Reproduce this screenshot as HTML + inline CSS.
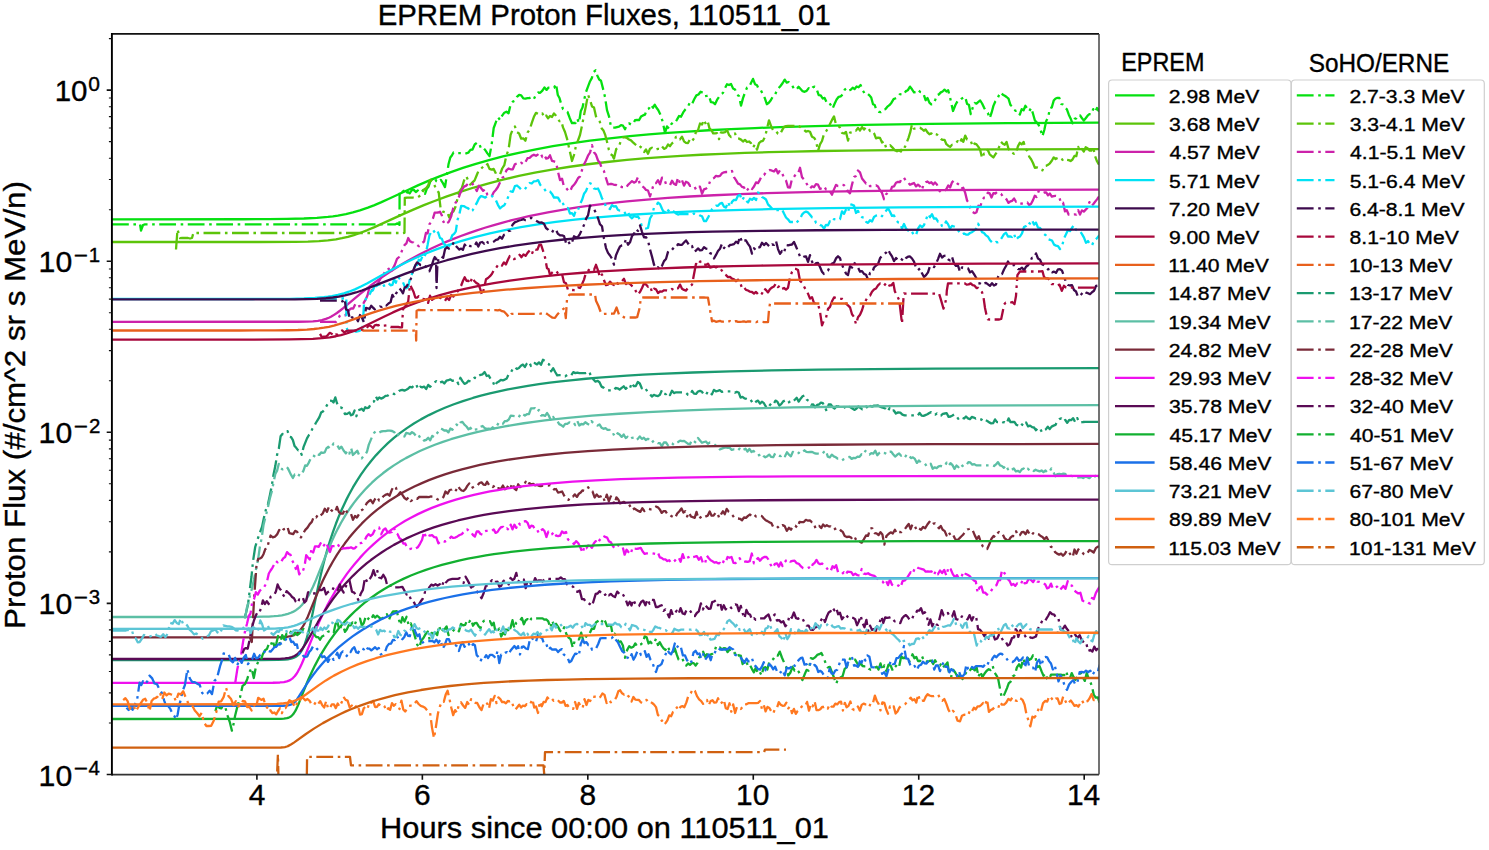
<!DOCTYPE html>
<html><head><meta charset="utf-8"><title>EPREM Proton Fluxes</title>
<style>html,body{margin:0;padding:0;background:#fff;} svg{display:block;} text{fill:#000;stroke:#000;stroke-width:0.35px;}</style>
</head><body>
<svg width="1489" height="850" viewBox="0 0 1489 850" font-family="Liberation Sans, sans-serif">
<rect width="1489" height="850" fill="#fff"/>
<defs><clipPath id="ax"><rect x="111.9" y="33.9" width="987.1" height="740.7"/></clipPath></defs>
<g clip-path="url(#ax)" fill="none" stroke-linejoin="round">
<path d="M109.9,219.30 L242.9,219.26 L268.9,219.16 L286.9,218.96 L303.9,218.52 L316.9,217.86 L327.9,216.91 L332.9,216.31 L337.9,215.58 L345.9,214.10 L352.9,212.44 L359.9,210.43 L367.9,207.69 L373.9,205.36 L380.9,202.41 L388.9,198.81 L407.9,189.96 L417.9,185.42 L428.9,180.66 L438.9,176.60 L450.9,172.08 L462.9,167.92 L475.9,163.82 L488.9,160.10 L503.9,156.23 L519.9,152.55 L535.9,149.28 L552.9,146.20 L570.9,143.33 L589.9,140.69 L609.9,138.27 L629.9,136.17 L648.9,134.43 L667.9,132.92 L687.9,131.53 L708.9,130.26 L730.9,129.12 L754.9,128.06 L779.9,127.13 L805.9,126.31 L833.9,125.58 L863.9,124.95 L929.9,123.92 L1007.9,123.18 L1101.9,122.68" stroke="#05e010" stroke-width="2.3"/>
<path d="M112.0,224.3 L114.0,224.3 L116.0,224.3 L118.0,224.3 L120.0,224.3 L122.0,224.3 L124.0,224.3 L126.0,224.3 L128.0,224.3 L130.0,224.3 L132.0,224.3 L134.0,224.3 L136.0,224.3 L138.0,224.1 L140.0,224.0 L141.0,230.6 L143.0,225.0 L145.0,224.3 L147.0,224.3 L149.0,224.3 L151.0,224.3 L153.0,224.3 L155.0,224.3 L157.0,224.3 L159.0,224.3 L161.0,224.3 L163.0,224.3 L165.0,224.3 L167.0,224.3 L169.1,224.3 L171.1,224.3 L173.1,224.3 L175.1,224.3 L177.1,224.3 L179.1,224.3 L181.1,224.3 L183.1,224.3 L185.1,224.3 L187.1,224.3 L189.1,224.3 L191.1,224.3 L193.1,224.3 L195.1,224.3 L197.1,224.3 L199.1,224.3 L201.1,224.3 L203.1,224.3 L205.1,224.3 L207.1,224.3 L209.1,224.3 L211.1,224.3 L213.1,224.3 L215.1,224.3 L217.1,224.3 L219.1,224.3 L221.2,224.3 L223.2,224.3 L225.2,224.3 L227.2,224.3 L229.2,224.3 L231.2,224.3 L233.2,224.3 L235.2,224.3 L237.2,224.3 L239.2,224.3 L241.2,224.3 L243.2,224.3 L245.2,224.3 L247.2,224.3 L249.2,224.3 L251.2,224.3 L253.2,224.3 L255.2,224.3 L257.2,224.3 L259.2,224.3 L261.2,224.3 L263.2,224.3 L265.2,224.3 L267.2,224.3 L269.2,224.3 L271.2,224.3 L273.3,224.3 L275.3,224.3 L277.3,224.3 L279.3,224.3 L281.3,224.3 L283.3,224.3 L285.3,224.3 L287.3,224.3 L289.3,224.3 L291.3,224.3 L293.3,224.3 L295.3,224.3 L297.3,224.3 L299.3,224.3 L301.3,224.3 L303.3,224.3 L305.3,224.3 L307.3,224.3 L309.3,224.3 L311.3,224.3 L313.3,224.3 L315.3,224.3 L317.3,224.3 L319.3,224.3 L321.3,224.3 L323.4,224.3 L325.4,224.3 L327.4,224.3 L329.4,224.3 L331.4,224.3 L333.4,224.3 L335.4,224.3 L337.4,224.3 L339.4,224.3 L341.4,224.3 L343.4,224.3 L345.4,224.3 L347.4,224.3 L349.4,224.3 L351.4,224.3 L353.4,224.3 L355.4,224.3 L357.4,224.3 L359.4,224.3 L361.4,224.3 L363.4,224.3 L365.4,224.3 L367.4,224.3 L369.4,224.3 L371.4,224.3 L373.4,224.3 L375.5,224.3 L377.5,224.3 L379.5,224.3 L381.5,224.3 L383.5,224.3 L385.5,224.3 L387.5,224.3 L389.5,224.3 L391.5,224.3 L393.5,224.3 L395.5,224.3 L397.5,223.3 L399.5,224.9 L399.6,190.9 L401.6,192.4 L403.7,190.8 L405.7,194.0 L407.7,191.8 L409.7,193.4 L411.8,190.0 L413.8,189.9 L415.8,192.0 L417.8,190.5 L419.8,192.7 L421.9,191.3 L423.9,189.4 L425.0,193.8 L426.8,188.8 L428.6,186.5 L430.5,180.9 L432.3,178.6 L434.4,177.8 L436.5,181.3 L438.6,182.3 L440.8,179.9 L442.9,183.1 L445.0,187.1 L446.8,175.4 L448.5,164.3 L450.3,157.5 L451.9,155.5 L453.5,152.5 L455.6,153.1 L457.7,153.1 L459.9,153.1 L462.0,153.1 L464.1,153.0 L466.2,153.3 L468.3,152.7 L470.4,149.9 L472.5,149.5 L474.7,144.5 L476.8,142.8 L478.9,142.9 L481.0,148.4 L483.1,147.7 L485.2,150.0 L487.4,153.4 L489.5,156.1 L491.6,144.9 L493.7,128.0 L495.9,122.1 L498.0,117.1 L500.1,120.1 L502.2,115.6 L504.3,112.7 L506.4,111.7 L508.5,113.4 L510.6,104.7 L512.8,101.6 L514.9,100.8 L517.0,96.8 L519.1,94.8 L521.2,95.3 L523.3,98.4 L525.4,98.7 L527.5,98.1 L529.6,98.1 L531.8,96.9 L533.9,99.0 L536.0,94.7 L538.1,92.5 L540.2,92.8 L542.4,90.6 L544.5,87.4 L546.6,89.9 L548.5,87.6 L550.4,87.5 L552.2,87.6 L554.1,87.8 L556.0,83.9 L557.8,95.0 L559.5,98.0 L561.2,104.1 L563.0,109.0 L565.2,110.5 L567.5,112.0 L569.8,118.2 L572.0,123.2 L573.8,122.8 L575.5,123.0 L577.2,118.7 L579.0,122.7 L580.8,111.0 L582.5,107.6 L584.2,99.6 L586.0,92.0 L587.9,86.9 L589.8,81.8 L591.8,78.1 L593.7,71.9 L595.6,70.3 L597.4,75.7 L599.2,79.5 L601.0,80.8 L603.0,88.6 L605.0,97.0 L607.0,110.1 L609.0,116.3 L611.0,126.8 L613.0,127.7 L615.0,127.7 L617.0,127.1 L619.0,126.7 L621.0,125.2 L623.0,125.7 L625.0,129.2 L627.0,124.5 L629.0,123.4 L631.0,124.4 L633.0,124.1 L635.0,120.2 L637.0,119.9 L639.0,120.2 L641.0,116.6 L643.0,115.4 L645.0,114.6 L647.0,109.1 L649.0,108.5 L651.0,104.7 L653.0,107.7 L654.8,104.7 L656.5,107.7 L658.2,110.0 L660.0,113.7 L662.5,121.1 L665.0,132.8 L667.0,126.4 L669.0,128.7 L671.0,124.5 L673.0,122.3 L675.0,122.6 L677.0,119.6 L679.0,116.0 L681.0,116.7 L683.2,112.4 L685.5,109.3 L687.8,107.0 L690.0,102.2 L692.1,103.8 L694.2,99.3 L696.4,95.4 L698.5,94.5 L700.6,91.7 L702.7,92.6 L704.7,96.3 L706.8,95.9 L708.8,95.3 L710.9,102.2 L712.9,102.4 L715.0,104.2 L717.0,99.9 L719.0,97.0 L721.0,94.2 L723.0,92.9 L725.0,88.0 L727.0,84.2 L729.0,85.0 L731.0,83.9 L733.0,88.4 L735.0,89.5 L737.0,94.5 L739.0,96.2 L741.0,105.6 L743.0,98.1 L745.0,92.5 L747.0,87.6 L749.0,87.2 L751.0,83.1 L753.0,78.9 L755.0,84.2 L757.0,85.2 L758.9,89.4 L760.9,90.4 L762.9,94.3 L764.8,98.1 L766.8,104.2 L768.8,102.8 L770.8,100.3 L772.8,96.6 L774.8,95.7 L776.8,90.4 L778.7,88.0 L780.7,85.7 L782.7,83.0 L784.7,79.6 L786.7,82.6 L788.7,82.0 L790.7,83.8 L792.7,86.5 L794.6,89.6 L796.6,89.2 L798.6,86.8 L800.6,89.0 L802.6,91.2 L804.6,91.8 L806.6,90.9 L808.7,88.1 L810.7,89.7 L812.7,87.4 L814.7,86.7 L816.7,89.2 L818.7,95.1 L820.7,95.3 L822.7,98.5 L824.6,97.9 L826.6,102.3 L828.6,101.7 L830.6,104.8 L832.6,108.6 L834.6,103.8 L836.6,99.5 L838.7,96.8 L840.7,96.3 L842.7,94.6 L844.7,89.7 L846.7,88.1 L848.7,90.4 L850.7,89.8 L852.7,87.8 L854.6,89.1 L856.6,86.5 L858.6,87.3 L860.6,85.0 L862.7,90.3 L864.8,93.7 L867.0,93.2 L869.1,95.1 L871.2,97.5 L873.0,104.2 L874.7,105.0 L876.5,110.4 L878.7,111.8 L880.9,112.1 L883.1,109.8 L885.3,109.2 L887.4,106.7 L889.4,105.2 L891.5,102.7 L893.6,99.1 L895.6,98.3 L897.7,97.4 L899.7,94.3 L901.8,94.1 L903.8,94.5 L905.9,91.1 L907.9,90.2 L910.0,86.6 L912.0,89.3 L914.0,92.3 L916.0,92.0 L918.0,89.8 L920.0,91.8 L921.9,92.2 L923.7,94.3 L925.6,100.2 L927.5,98.0 L929.4,102.6 L931.3,104.4 L933.2,104.3 L935.1,100.2 L937.0,95.2 L938.9,94.4 L940.8,92.4 L942.6,91.5 L944.5,89.7 L946.4,91.5 L948.2,90.3 L950.1,97.7 L953.0,111.0 L955.4,105.0 L957.7,100.8 L959.6,100.7 L961.5,98.7 L963.3,97.7 L965.2,96.9 L967.1,104.0 L968.9,104.7 L970.8,114.2 L972.7,107.6 L974.6,103.0 L976.5,103.6 L978.4,101.9 L980.2,100.5 L982.1,103.5 L984.0,107.6 L985.9,111.0 L987.8,112.9 L989.7,118.2 L991.6,112.7 L993.4,105.9 L995.3,101.5 L997.2,99.4 L999.1,94.9 L1001.0,92.4 L1002.9,94.7 L1004.8,95.7 L1006.6,97.0 L1008.5,98.7 L1010.4,104.9 L1012.2,106.4 L1014.1,109.8 L1016.0,110.9 L1017.9,110.6 L1019.8,114.6 L1021.7,109.1 L1023.6,110.3 L1025.4,105.8 L1027.3,108.8 L1029.2,111.3 L1031.1,107.9 L1033.0,113.7 L1034.9,120.5 L1036.7,122.4 L1038.6,124.8 L1040.5,129.6 L1042.4,136.3 L1044.3,130.0 L1046.2,121.0 L1048.1,117.6 L1049.9,108.2 L1051.8,107.4 L1053.7,100.6 L1055.6,98.5 L1057.5,97.8 L1059.3,97.8 L1061.2,104.0 L1063.1,104.5 L1065.0,107.5 L1066.9,109.3 L1068.8,114.7 L1070.6,118.4 L1072.5,123.4 L1074.4,118.9 L1076.3,118.4 L1078.2,115.2 L1080.1,115.3 L1082.0,118.3 L1083.8,120.6 L1085.7,118.2 L1087.6,115.7 L1089.4,114.2 L1091.3,114.2 L1093.2,109.1 L1095.1,112.1 L1097.0,108.0 L1098.5,110.7 L1100.0,108.6" stroke="#05e010" stroke-width="2.3" stroke-dasharray="16.8 4.6 2.6 4.5"/>
<path d="M109.9,242.00 L258.9,241.99 L294.9,241.84 L307.9,241.59 L318.9,241.12 L327.9,240.39 L335.9,239.34 L341.9,238.24 L347.9,236.81 L353.9,235.07 L359.9,233.02 L366.9,230.31 L373.9,227.35 L401.9,214.65 L413.9,209.37 L423.9,205.18 L433.9,201.21 L446.9,196.38 L460.9,191.59 L473.9,187.52 L487.9,183.52 L502.9,179.65 L518.9,175.96 L534.9,172.68 L551.9,169.60 L569.9,166.74 L587.9,164.26 L606.9,162.00 L626.9,159.96 L643.9,158.47 L661.9,157.11 L680.9,155.87 L700.9,154.77 L721.9,153.79 L744.9,152.91 L768.9,152.16 L793.9,151.53 L819.9,151.00 L848.9,150.54 L914.9,149.85 L995.9,149.42 L1101.9,149.17" stroke="#5cc40a" stroke-width="2.3"/>
<path d="M176.0,249.5 L177.5,229.4 L180.0,238.1 L182.0,238.0 L184.0,238.0 L186.0,238.0 L188.0,238.0 L190.0,238.5 L192.0,238.0 L193.5,232.6 L195.5,233.0 L197.5,233.0 L199.5,233.0 L201.5,233.0 L203.5,233.0 L205.4,233.0 L207.4,233.0 L209.4,233.0 L211.4,233.0 L213.4,233.0 L215.4,233.0 L217.4,233.0 L219.4,233.0 L221.4,233.0 L223.4,233.0 L225.3,233.0 L227.3,233.0 L229.3,233.0 L231.3,233.0 L233.3,233.0 L235.3,233.0 L237.3,233.0 L239.3,233.0 L241.3,233.0 L243.3,233.0 L245.3,233.0 L247.2,233.0 L249.2,233.0 L251.2,233.0 L253.2,233.0 L255.2,233.0 L257.2,233.0 L259.2,233.0 L261.2,233.0 L263.2,233.0 L265.2,233.0 L267.2,233.0 L269.1,233.0 L271.1,233.0 L273.1,233.0 L275.1,233.0 L277.1,233.0 L279.1,233.0 L281.1,233.0 L283.1,233.0 L285.1,233.0 L287.1,233.0 L289.0,233.0 L291.0,233.0 L293.0,233.0 L295.0,233.0 L297.0,233.0 L299.0,233.0 L301.0,233.0 L303.0,233.0 L305.0,233.0 L307.0,233.0 L309.0,233.0 L310.9,233.0 L312.9,233.0 L314.9,233.0 L316.9,233.0 L318.9,233.0 L320.9,233.0 L322.9,233.0 L324.9,233.0 L326.9,233.0 L328.9,233.0 L330.8,233.0 L332.8,233.0 L334.8,233.0 L336.8,233.0 L338.8,233.0 L340.8,233.0 L342.8,233.0 L344.8,233.0 L346.8,233.0 L348.8,233.0 L350.8,233.0 L352.7,233.0 L354.7,233.0 L356.7,233.0 L358.7,233.0 L360.7,233.0 L362.7,233.0 L364.7,233.0 L366.7,233.0 L368.7,233.0 L370.7,233.0 L372.7,233.0 L374.6,233.0 L376.6,233.0 L378.6,233.0 L380.6,233.0 L382.6,233.0 L384.6,233.0 L386.6,233.0 L388.6,233.0 L390.6,233.0 L392.6,233.0 L394.5,233.0 L396.5,233.0 L398.5,233.0 L400.5,233.0 L402.5,233.2 L404.5,232.8 L404.8,198.0 L406.9,197.6 L409.0,197.6 L411.1,197.6 L413.3,197.6 L415.4,197.9 L417.5,197.5 L419.6,196.0 L421.7,194.4 L423.8,189.8 L426.0,188.3 L428.1,185.4 L430.2,179.9 L432.3,181.0 L434.4,185.0 L436.6,190.5 L438.7,192.3 L440.8,210.0 L442.9,211.7 L445.1,212.2 L447.2,212.2 L449.3,217.5 L451.4,212.9 L453.5,211.3 L455.6,206.5 L457.7,197.8 L459.8,191.0 L461.9,187.8 L464.1,180.3 L466.2,176.2 L468.3,180.6 L470.4,184.6 L472.5,182.4 L474.6,180.4 L476.8,175.0 L478.9,169.8 L481.0,168.8 L483.1,166.7 L485.3,167.3 L487.4,164.0 L489.5,168.9 L491.6,169.6 L493.7,168.9 L495.9,173.4 L498.0,179.4 L500.1,174.3 L502.2,168.5 L504.3,165.2 L506.4,155.4 L508.5,149.9 L510.6,134.9 L512.8,129.2 L514.9,126.4 L517.0,132.3 L519.1,133.5 L521.2,138.7 L523.3,138.3 L525.4,140.7 L527.5,132.7 L529.7,129.5 L531.8,122.9 L533.9,116.8 L536.0,112.9 L538.1,113.9 L540.3,114.8 L542.4,113.4 L544.3,117.5 L546.2,115.5 L548.1,118.4 L550.0,116.0 L552.0,117.0 L554.0,113.4 L556.0,115.7 L557.8,118.6 L559.5,121.2 L561.2,120.9 L563.0,127.4 L565.0,132.0 L567.0,138.6 L569.5,149.9 L572.0,161.0 L574.0,155.0 L576.0,145.7 L578.0,140.5 L580.0,135.0 L582.0,125.8 L584.0,115.3 L586.0,105.6 L588.0,94.8 L590.0,99.9 L592.0,106.4 L594.0,107.6 L596.0,116.4 L598.0,118.8 L599.8,121.7 L601.7,128.4 L603.5,130.6 L605.3,135.2 L607.0,141.7 L608.8,149.6 L610.6,154.3 L612.3,155.3 L614.0,158.6 L616.2,149.0 L618.5,147.8 L620.8,141.1 L623.0,137.3 L625.0,137.4 L627.0,138.0 L629.0,139.5 L631.0,140.4 L633.0,142.3 L635.0,144.1 L636.8,145.6 L638.7,144.7 L640.5,146.9 L642.3,148.3 L644.2,152.0 L646.0,149.4 L648.0,153.8 L650.0,148.8 L652.0,147.7 L654.0,149.3 L656.0,149.6 L658.0,148.8 L660.0,149.0 L662.0,146.3 L664.0,148.9 L666.0,148.0 L668.0,144.5 L670.0,146.2 L672.0,143.4 L674.0,141.8 L676.0,136.8 L678.0,136.7 L680.0,139.4 L682.0,136.6 L684.0,141.3 L686.0,142.9 L688.0,143.1 L690.0,139.1 L692.0,141.1 L694.0,138.3 L696.0,131.8 L698.0,130.3 L700.0,123.5 L702.0,124.5 L704.0,119.8 L705.8,124.2 L707.7,121.5 L709.5,128.4 L711.3,130.0 L713.2,133.4 L715.0,133.3 L717.0,133.1 L719.0,139.2 L721.0,132.3 L723.0,132.7 L725.0,132.2 L727.0,129.9 L729.0,134.9 L731.0,137.1 L733.0,134.6 L735.0,133.5 L737.0,138.3 L739.0,138.6 L741.0,139.6 L743.0,141.5 L745.0,139.9 L747.0,142.0 L749.0,141.5 L751.0,143.2 L753.0,147.6 L755.0,144.4 L757.0,149.7 L759.0,143.1 L761.0,141.4 L763.0,140.8 L765.0,137.0 L767.0,128.6 L769.0,120.3 L771.2,126.5 L773.5,130.9 L775.8,130.8 L778.0,133.8 L780.0,134.5 L782.0,130.4 L784.0,126.9 L786.0,126.2 L788.0,126.0 L790.0,126.0 L792.0,126.0 L794.0,126.0 L796.0,126.0 L798.0,125.2 L800.0,126.9 L802.0,128.1 L804.0,129.9 L806.0,131.7 L808.0,131.0 L810.0,131.8 L812.0,136.8 L814.0,137.7 L816.0,140.6 L818.0,151.2 L820.0,144.4 L822.0,141.0 L824.0,134.0 L826.0,131.5 L828.0,128.1 L830.0,124.0 L832.0,119.9 L834.0,116.4 L836.0,124.5 L838.0,125.5 L840.0,127.7 L842.0,132.9 L844.0,133.5 L846.0,132.0 L848.0,140.6 L850.0,132.7 L852.0,132.2 L854.0,130.3 L856.0,130.7 L858.0,127.9 L860.0,130.5 L862.0,127.1 L864.0,129.5 L866.0,127.1 L868.0,127.7 L870.0,131.0 L872.0,130.6 L874.0,133.1 L876.0,138.3 L878.0,137.6 L880.0,137.9 L882.0,142.5 L884.0,141.1 L886.0,147.4 L888.0,146.8 L890.2,145.2 L892.5,147.6 L894.8,150.2 L897.0,151.3 L899.0,150.4 L901.0,151.5 L903.0,145.6 L905.0,146.9 L906.8,142.4 L908.5,137.8 L910.2,132.4 L912.0,124.4 L914.0,128.7 L916.0,128.6 L918.0,127.8 L920.0,127.7 L921.9,129.0 L923.8,130.7 L925.6,129.4 L927.5,132.4 L929.4,134.3 L931.3,133.4 L933.2,135.4 L935.1,134.0 L937.0,134.5 L938.9,136.9 L940.8,139.0 L942.6,139.9 L944.5,139.8 L946.4,144.2 L948.2,145.7 L950.1,146.9 L952.0,144.8 L953.9,144.7 L955.8,143.3 L957.7,141.1 L959.6,143.4 L961.5,139.2 L963.3,141.9 L965.2,135.6 L967.1,139.5 L968.9,139.7 L970.8,141.0 L972.7,146.3 L974.6,143.5 L976.5,144.4 L978.4,146.9 L980.2,150.1 L982.1,158.2 L984.0,153.6 L985.9,154.0 L987.8,150.0 L989.7,154.3 L991.5,155.8 L993.4,157.5 L995.3,154.4 L997.2,151.6 L999.1,147.0 L1001.0,141.8 L1002.9,143.7 L1004.8,144.7 L1006.6,142.0 L1008.5,148.8 L1010.4,152.7 L1012.2,152.7 L1014.1,153.9 L1016.0,153.4 L1017.9,146.4 L1019.8,142.8 L1021.7,144.3 L1023.6,141.9 L1025.5,148.7 L1027.3,150.9 L1029.2,156.6 L1031.1,159.2 L1033.0,163.0 L1034.9,167.8 L1036.8,167.4 L1038.7,168.3 L1040.5,168.5 L1042.4,170.4 L1044.3,166.1 L1046.2,165.8 L1048.0,164.8 L1049.9,163.3 L1051.8,160.7 L1053.7,157.4 L1055.6,159.1 L1057.5,158.0 L1059.3,157.4 L1061.2,157.8 L1063.1,160.9 L1065.0,159.8 L1066.8,159.8 L1068.7,160.1 L1070.6,161.0 L1072.5,159.5 L1074.4,156.0 L1076.3,156.2 L1078.2,147.0 L1080.1,151.6 L1082.0,149.0 L1083.8,151.5 L1085.7,147.3 L1087.6,148.2 L1089.5,150.6 L1091.3,150.7 L1093.2,147.5 L1095.1,156.1 L1097.0,161.3 L1098.5,163.9 L1100.0,162.3" stroke="#5cc40a" stroke-width="2.3" stroke-dasharray="16.8 4.6 2.6 4.5"/>
<path d="M109.9,321.80 L297.9,321.75 L306.9,321.60 L312.9,321.32 L317.9,320.81 L321.9,320.09 L325.9,318.94 L328.9,317.73 L330.9,316.75 L332.9,315.62 L336.9,312.99 L339.9,310.75 L342.9,308.36 L359.9,294.11 L365.9,289.28 L370.9,285.40 L376.9,280.93 L382.9,276.66 L388.9,272.58 L395.9,268.05 L401.9,264.35 L407.9,260.83 L413.9,257.47 L419.9,254.26 L425.9,251.20 L431.9,248.29 L437.9,245.51 L444.9,242.42 L452.9,239.10 L460.9,235.99 L468.9,233.06 L476.9,230.32 L484.9,227.75 L493.9,225.05 L501.9,222.80 L510.9,220.44 L519.9,218.25 L528.9,216.21 L537.9,214.31 L547.9,212.35 L557.9,210.55 L567.9,208.89 L578.9,207.21 L589.9,205.67 L607.9,203.43 L626.9,201.40 L646.9,199.57 L667.9,197.95 L689.9,196.52 L713.9,195.23 L739.9,194.08 L766.9,193.13 L795.9,192.31 L826.9,191.63 L860.9,191.06 L897.9,190.59 L938.9,190.21 L985.9,189.91 L1101.9,189.52" stroke="#cc22aa" stroke-width="2.3"/>
<path d="M320.0,321.8 L322.0,321.8 L324.0,321.8 L326.0,321.8 L327.9,321.8 L329.9,321.8 L331.9,321.8 L333.9,321.8 L335.9,322.0 L337.7,320.1 L339.5,316.1 L341.4,315.0 L343.2,315.9 L345.0,315.5 L347.1,313.1 L349.1,310.0 L351.2,308.4 L353.2,308.5 L355.3,304.1 L357.4,307.0 L359.5,306.0 L361.7,306.8 L363.8,302.7 L365.9,299.1 L367.7,294.7 L369.4,287.3 L371.2,290.7 L373.0,289.4 L374.7,288.4 L376.5,285.1 L378.2,283.1 L380.0,279.5 L381.7,276.5 L383.5,275.5 L385.3,270.0 L387.1,269.8 L388.8,268.8 L390.6,272.5 L392.7,268.7 L394.8,264.9 L397.0,258.8 L399.1,257.0 L401.2,252.8 L402.9,248.2 L404.7,244.8 L406.4,243.3 L408.2,238.0 L410.0,241.3 L411.7,242.1 L413.5,242.5 L415.3,244.5 L417.0,244.8 L418.8,246.2 L420.6,243.5 L422.3,242.8 L424.1,241.5 L425.9,232.9 L427.6,233.4 L429.4,224.2 L431.2,222.1 L432.9,218.6 L434.7,212.7 L436.5,212.6 L438.2,212.5 L440.0,211.7 L441.8,215.3 L443.5,222.0 L445.3,220.5 L447.0,223.1 L448.8,221.9 L451.1,216.6 L453.3,207.8 L455.6,202.6 L457.7,200.3 L459.9,194.1 L462.0,189.6 L464.1,186.6 L466.2,185.6 L468.3,183.4 L470.4,182.4 L472.5,183.7 L474.7,187.3 L476.8,191.0 L478.9,185.7 L481.0,188.0 L483.1,190.9 L485.3,189.1 L487.4,194.9 L489.5,195.7 L491.6,196.7 L493.7,192.3 L495.8,190.0 L497.9,187.0 L500.1,182.1 L502.2,177.7 L504.3,176.6 L506.4,170.4 L508.5,168.5 L510.6,169.3 L512.8,169.3 L514.9,164.3 L517.0,163.4 L519.1,164.3 L521.2,162.7 L523.3,164.5 L525.4,162.1 L527.5,158.2 L529.6,157.8 L531.8,155.8 L533.9,154.7 L536.0,155.8 L538.1,154.4 L540.3,152.7 L542.4,157.1 L544.3,155.1 L546.2,158.6 L548.1,158.2 L550.0,155.3 L552.0,160.8 L554.0,161.4 L556.0,162.1 L558.0,171.7 L560.0,180.1 L562.0,178.6 L564.0,186.9 L566.0,187.9 L568.0,190.3 L570.0,191.6 L572.0,186.9 L574.0,184.8 L576.0,182.0 L578.0,178.2 L580.0,176.5 L582.0,170.0 L584.0,164.4 L586.0,160.4 L588.0,155.7 L590.0,152.7 L592.0,145.2 L594.0,152.3 L596.0,154.8 L598.0,160.5 L600.0,162.9 L602.0,169.3 L604.0,171.2 L606.0,178.2 L608.0,184.5 L610.0,184.0 L612.0,184.0 L614.0,184.8 L616.0,184.9 L618.0,186.6 L620.0,185.8 L622.0,187.2 L624.0,187.2 L626.0,187.8 L628.0,184.8 L630.0,183.0 L632.0,181.2 L634.0,182.7 L636.0,181.6 L638.0,177.0 L640.0,185.0 L642.0,186.1 L644.0,187.6 L646.0,189.9 L648.0,190.5 L650.0,196.5 L652.0,189.9 L654.0,183.1 L656.0,183.1 L658.0,180.2 L660.0,184.3 L662.0,177.6 L664.0,178.3 L666.0,184.1 L668.0,184.4 L670.0,185.1 L672.0,180.7 L674.0,183.8 L676.0,184.9 L678.0,177.5 L680.0,183.5 L682.0,180.3 L684.0,185.6 L686.0,181.8 L688.0,182.7 L690.0,185.9 L692.0,185.6 L694.0,185.7 L696.0,189.6 L698.0,186.7 L700.0,186.7 L702.0,193.7 L704.0,189.3 L706.0,188.7 L708.0,187.2 L710.0,181.4 L712.0,178.9 L714.0,178.0 L716.0,175.8 L718.0,176.4 L720.0,175.9 L722.0,173.3 L724.0,172.3 L726.0,172.0 L728.0,172.0 L730.0,172.5 L732.0,171.0 L734.0,177.2 L736.0,180.1 L738.0,183.6 L740.0,184.4 L742.0,186.9 L744.0,187.4 L746.0,191.6 L748.0,189.1 L750.0,186.8 L752.0,189.1 L754.0,186.5 L756.0,182.4 L758.0,183.1 L760.0,179.6 L762.0,175.3 L764.0,175.0 L766.0,172.1 L768.0,171.3 L770.0,170.0 L772.0,170.7 L774.0,171.5 L776.0,169.1 L778.0,173.4 L780.0,170.2 L782.0,172.9 L784.0,177.8 L786.0,180.5 L788.0,187.4 L790.0,187.5 L792.0,178.7 L794.0,176.9 L796.0,173.9 L798.0,173.6 L800.0,167.8 L802.0,177.3 L804.0,179.4 L806.0,182.7 L808.0,185.9 L810.0,188.5 L812.0,186.3 L814.0,187.1 L816.0,184.2 L818.0,184.7 L820.0,188.9 L822.0,188.1 L824.0,186.3 L826.0,189.3 L828.0,189.3 L830.0,191.4 L832.0,194.7 L834.0,189.4 L836.0,184.9 L838.0,186.0 L840.0,186.0 L842.0,184.8 L844.0,185.1 L846.0,187.6 L848.0,191.5 L850.0,193.3 L852.0,184.6 L854.0,177.0 L856.0,175.9 L858.0,170.5 L860.0,172.3 L862.0,178.5 L864.0,181.0 L866.0,183.5 L868.0,182.8 L870.0,186.1 L872.0,186.0 L874.0,186.0 L876.0,185.3 L878.0,186.5 L880.0,190.2 L882.0,192.8 L884.0,199.2 L886.0,194.4 L888.0,192.5 L890.0,192.6 L892.0,186.9 L894.0,186.4 L896.0,182.8 L898.0,181.9 L900.0,182.1 L902.0,177.8 L904.0,177.8 L906.0,180.9 L908.0,182.4 L910.0,184.8 L912.0,183.9 L914.0,183.0 L916.0,186.4 L918.0,184.6 L920.0,186.3 L921.9,189.9 L923.8,183.7 L925.6,182.3 L927.5,181.5 L929.4,183.2 L931.3,182.2 L933.2,184.5 L935.0,182.4 L936.9,184.5 L938.8,190.1 L940.7,191.9 L942.6,191.7 L944.5,191.3 L946.4,189.0 L948.3,185.4 L950.1,187.5 L952.0,182.3 L953.9,180.5 L955.8,181.5 L957.6,183.8 L959.5,185.0 L961.4,188.4 L963.3,187.8 L965.2,192.9 L967.1,200.6 L968.9,202.9 L970.8,209.9 L972.7,212.1 L974.6,213.2 L976.5,212.2 L978.4,205.8 L980.2,206.8 L982.1,200.6 L984.0,197.6 L985.9,197.2 L987.8,192.7 L989.7,193.4 L991.5,197.5 L993.4,193.1 L995.3,193.5 L997.2,191.9 L999.1,193.2 L1001.0,193.9 L1002.9,196.5 L1004.8,197.0 L1006.6,199.5 L1008.5,202.9 L1010.4,201.4 L1012.2,200.8 L1014.1,198.5 L1016.0,201.8 L1017.9,201.6 L1019.8,203.6 L1021.7,203.5 L1023.6,203.1 L1025.5,203.1 L1027.3,202.4 L1029.2,205.1 L1031.1,203.7 L1033.0,200.1 L1034.8,195.8 L1036.7,197.0 L1038.6,191.2 L1040.5,192.6 L1042.4,193.3 L1044.3,192.5 L1046.2,192.4 L1048.0,195.3 L1049.9,193.5 L1051.8,196.7 L1053.7,196.2 L1055.5,195.9 L1057.4,196.2 L1059.3,197.3 L1061.2,203.5 L1063.1,202.8 L1065.0,211.4 L1066.8,210.2 L1068.7,214.7 L1070.6,214.4 L1072.5,214.4 L1074.4,214.3 L1076.3,214.6 L1078.2,210.3 L1080.0,214.6 L1081.9,210.4 L1083.8,211.6 L1085.7,209.6 L1087.5,208.0 L1089.4,202.1 L1091.3,206.1 L1093.2,204.2 L1095.1,201.8 L1097.0,199.4 L1098.5,197.2 L1100.0,199.1" stroke="#cc22aa" stroke-width="2.3" stroke-dasharray="16.8 4.6 2.6 4.5"/>
<path d="M109.9,299.00 L252.9,298.98 L289.9,298.81 L303.9,298.52 L314.9,298.02 L323.9,297.25 L327.9,296.76 L331.9,296.14 L337.9,294.95 L343.9,293.36 L348.9,291.71 L354.9,289.34 L360.9,286.58 L366.9,283.52 L388.9,271.34 L397.9,266.53 L406.9,261.99 L414.9,258.23 L425.9,253.47 L436.9,249.16 L448.9,244.92 L460.9,241.12 L474.9,237.18 L481.9,235.39 L489.9,233.47 L504.9,230.23 L520.9,227.21 L537.9,224.44 L555.9,221.91 L574.9,219.64 L594.9,217.62 L612.9,216.07 L630.9,214.74 L649.9,213.54 L670.9,212.42 L692.9,211.44 L716.9,210.56 L741.9,209.81 L768.9,209.16 L797.9,208.60 L828.9,208.13 L899.9,207.42 L986.9,206.95 L1101.9,206.68" stroke="#00e2f5" stroke-width="2.3"/>
<path d="M320.0,298.5 L322.0,298.5 L324.0,298.5 L326.1,298.5 L328.1,298.5 L330.1,298.5 L332.1,298.5 L334.2,298.5 L336.2,298.5 L338.2,298.5 L340.2,298.5 L342.3,298.5 L344.3,298.2 L346.3,297.5 L346.5,327.7 L348.0,331.3 L350.1,331.1 L352.1,331.0 L354.2,330.9 L356.2,331.7 L358.3,331.2 L360.3,330.6 L362.4,331.4 L364.0,304.0 L365.8,299.0 L367.6,295.6 L369.4,294.8 L371.2,291.3 L373.0,290.2 L374.7,285.7 L376.5,286.0 L378.2,284.9 L380.1,284.4 L382.1,282.8 L384.0,285.8 L386.2,284.7 L388.4,283.0 L390.6,285.3 L392.4,284.9 L394.1,279.3 L395.9,282.7 L397.6,276.6 L399.4,278.5 L401.2,280.4 L403.0,282.4 L404.8,286.6 L406.5,288.3 L408.2,286.6 L410.0,278.7 L411.8,274.2 L413.5,270.3 L415.3,265.3 L417.1,265.1 L418.8,259.7 L420.6,260.5 L422.4,256.6 L424.1,258.0 L425.9,252.5 L427.6,244.9 L429.4,235.6 L431.2,231.8 L433.0,229.8 L434.8,232.5 L436.5,230.3 L438.2,232.7 L440.0,238.0 L441.8,238.7 L443.5,243.2 L445.2,244.9 L447.0,247.1 L448.8,247.4 L450.5,240.1 L452.3,235.2 L454.1,233.9 L455.8,231.3 L457.6,219.7 L459.4,213.9 L461.2,205.8 L463.7,206.1 L466.2,207.5 L468.3,208.4 L470.4,211.8 L472.5,210.6 L474.6,206.3 L476.8,203.0 L478.9,198.5 L481.0,196.1 L483.1,196.7 L485.2,197.6 L487.3,195.8 L489.5,195.5 L491.6,195.6 L493.7,198.3 L495.8,200.0 L497.9,204.8 L500.0,208.4 L502.2,206.5 L504.3,205.3 L506.4,201.4 L508.5,196.1 L510.6,191.4 L512.8,191.8 L514.9,186.2 L517.0,185.5 L519.1,187.3 L521.2,189.6 L523.3,190.3 L525.5,188.3 L527.6,185.6 L529.7,183.0 L531.8,183.5 L533.9,181.3 L536.0,181.2 L538.1,180.1 L540.3,184.9 L542.4,187.5 L544.3,188.9 L546.2,191.7 L548.1,190.8 L550.0,191.5 L552.0,193.9 L554.0,197.6 L556.0,197.3 L558.0,197.6 L560.0,201.4 L562.0,200.0 L564.0,206.5 L566.0,207.7 L568.0,208.1 L570.0,213.5 L572.0,213.2 L574.0,215.9 L576.0,209.6 L578.0,210.1 L580.0,204.3 L582.0,200.1 L584.0,193.8 L586.0,191.1 L588.0,185.8 L590.0,183.2 L592.0,184.3 L594.0,188.4 L596.0,189.0 L598.0,188.5 L600.0,192.7 L602.0,198.4 L604.0,200.6 L606.0,207.5 L608.0,207.7 L610.0,209.0 L612.0,205.1 L614.0,206.5 L616.0,206.2 L618.0,210.0 L620.0,210.6 L622.0,210.6 L624.0,211.6 L626.0,214.5 L628.0,212.1 L630.0,216.4 L632.0,218.3 L634.0,216.0 L636.0,216.8 L638.0,216.5 L640.0,219.8 L642.0,227.0 L644.0,228.0 L646.0,228.5 L648.0,228.0 L650.0,218.5 L652.0,215.2 L654.0,207.6 L656.0,206.1 L658.0,202.6 L660.0,204.1 L662.0,208.8 L664.0,212.8 L666.0,208.3 L668.0,210.2 L670.0,212.0 L672.0,210.5 L674.0,211.7 L676.0,213.5 L678.0,214.6 L680.0,214.0 L682.0,214.0 L684.0,214.0 L686.0,214.0 L688.0,214.0 L690.0,214.0 L692.0,214.8 L694.0,213.5 L696.0,214.0 L698.0,214.0 L700.0,215.5 L702.0,216.3 L704.0,221.0 L706.0,221.1 L708.0,217.7 L710.0,213.6 L712.0,209.1 L714.0,207.1 L716.0,205.6 L718.0,205.8 L720.0,203.6 L722.0,202.9 L724.0,206.7 L726.0,207.6 L728.0,201.9 L730.0,206.8 L732.0,201.9 L734.0,199.8 L736.0,200.1 L738.0,195.8 L740.0,194.7 L742.0,200.5 L744.0,197.2 L746.0,200.7 L748.0,202.5 L750.0,198.8 L752.0,199.8 L754.0,197.9 L756.0,200.1 L758.0,192.5 L760.0,193.2 L762.0,196.9 L764.0,198.0 L766.0,199.5 L768.0,204.4 L770.0,206.4 L772.0,208.5 L774.0,210.7 L776.0,210.0 L778.0,210.0 L780.0,210.1 L782.0,209.3 L784.0,213.6 L786.0,217.5 L788.0,219.3 L790.0,222.0 L792.0,222.0 L794.0,222.0 L796.0,223.4 L798.0,221.1 L800.0,219.2 L802.0,214.6 L804.0,212.5 L806.0,211.6 L808.0,212.4 L810.0,214.7 L812.0,217.3 L814.0,217.7 L816.0,222.9 L818.0,223.1 L820.0,224.9 L822.0,225.8 L824.0,228.6 L826.0,224.8 L828.0,225.3 L830.0,221.1 L832.0,222.2 L834.0,219.1 L836.0,219.1 L838.0,219.8 L840.0,219.2 L842.0,211.3 L844.0,213.9 L846.0,209.6 L848.0,212.3 L850.0,204.2 L852.0,204.7 L854.0,205.6 L856.0,213.0 L858.0,210.8 L860.0,215.5 L862.0,217.2 L864.0,217.6 L866.0,221.7 L868.0,222.9 L870.0,220.3 L872.0,221.5 L874.0,217.0 L876.0,215.6 L878.0,215.1 L880.0,214.4 L882.0,216.2 L884.0,212.6 L886.0,210.9 L888.0,208.2 L890.0,211.8 L892.0,215.9 L894.0,215.4 L896.0,220.0 L898.0,222.3 L900.0,222.8 L902.0,228.5 L904.0,224.0 L906.0,228.4 L908.0,230.6 L910.0,229.0 L912.0,231.8 L914.0,235.1 L916.0,235.3 L918.0,228.6 L920.0,225.5 L922.0,227.2 L924.0,225.1 L926.0,219.6 L928.0,214.0 L930.0,217.2 L932.0,214.2 L934.0,218.7 L936.0,218.4 L938.0,221.7 L940.0,221.5 L942.0,225.9 L944.0,226.4 L946.0,221.4 L948.0,224.1 L950.0,228.6 L952.0,225.9 L954.0,226.5 L956.0,227.2 L958.0,230.1 L960.0,233.2 L962.0,234.5 L964.0,233.4 L966.0,234.6 L968.0,234.7 L970.0,233.0 L972.0,232.2 L974.0,230.6 L976.0,229.0 L978.0,223.6 L980.0,227.3 L982.0,232.1 L984.0,233.0 L986.0,235.4 L988.0,236.7 L990.0,240.3 L992.0,242.3 L994.0,243.5 L996.0,242.0 L998.0,242.3 L1000.0,240.3 L1002.0,237.5 L1004.0,234.1 L1006.0,232.8 L1008.0,236.5 L1010.0,236.3 L1012.0,237.0 L1014.0,233.6 L1016.0,239.9 L1018.0,237.6 L1020.0,236.5 L1022.0,233.4 L1024.0,227.1 L1026.0,226.0 L1028.0,222.1 L1030.0,223.6 L1032.0,220.1 L1034.0,224.6 L1036.0,222.6 L1038.0,227.7 L1040.0,227.9 L1042.0,230.3 L1044.0,233.9 L1046.0,235.5 L1048.0,239.1 L1050.0,239.8 L1052.0,240.6 L1054.0,244.6 L1056.0,245.6 L1058.0,246.1 L1060.0,249.0 L1062.0,246.4 L1064.0,238.3 L1066.0,234.2 L1068.0,229.9 L1070.0,231.1 L1072.0,227.8 L1074.0,225.1 L1076.0,229.8 L1078.0,231.0 L1080.0,231.2 L1082.0,234.1 L1084.0,237.6 L1086.0,242.8 L1088.0,241.0 L1090.0,244.6 L1092.0,245.4 L1094.0,240.6 L1096.0,239.2 L1098.0,236.9 L1100.0,234.8" stroke="#00e2f5" stroke-width="2.3" stroke-dasharray="16.8 4.6 2.6 4.5"/>
<path d="M109.9,299.40 L260.9,299.39 L294.9,299.29 L306.9,299.12 L316.9,298.79 L325.9,298.23 L332.9,297.50 L338.9,296.61 L344.9,295.43 L349.9,294.21 L355.9,292.47 L361.9,290.49 L368.9,287.94 L393.9,278.10 L404.9,273.91 L413.9,270.65 L422.9,267.56 L434.9,263.74 L446.9,260.23 L458.9,257.04 L471.9,253.91 L485.9,250.90 L499.9,248.23 L514.9,245.71 L530.9,243.37 L546.9,241.35 L563.9,239.51 L581.9,237.86 L600.9,236.39 L616.9,235.36 L633.9,234.42 L651.9,233.59 L670.9,232.85 L690.9,232.22 L712.9,231.67 L761.9,230.80 L816.9,230.24 L884.9,229.88 L972.9,229.68 L1101.9,229.59" stroke="#3d0a4d" stroke-width="2.3"/>
<path d="M320.0,300.6 L322.1,300.6 L324.1,300.6 L326.2,300.6 L328.2,300.6 L330.3,300.6 L332.4,300.6 L334.4,300.6 L336.5,300.6 L338.5,300.6 L340.6,300.6 L342.6,301.4 L344.7,298.9 L346.0,309.4 L348.0,310.3 L350.0,319.4 L352.0,317.3 L354.0,318.4 L356.0,317.8 L358.0,321.2 L360.0,315.0 L362.0,317.7 L364.0,322.4 L366.0,308.0 L367.8,308.3 L369.5,309.0 L371.2,305.7 L373.0,307.6 L374.8,309.3 L376.5,308.2 L378.2,307.8 L380.0,306.5 L382.1,307.0 L384.2,304.8 L386.4,305.5 L388.5,303.5 L390.6,302.1 L392.4,294.8 L394.1,297.9 L395.9,293.8 L397.7,290.9 L399.4,288.4 L401.2,290.5 L403.0,293.3 L404.7,287.5 L406.5,286.6 L408.7,282.7 L410.9,278.7 L413.1,270.8 L415.3,265.4 L417.1,262.4 L418.8,263.6 L420.5,265.0 L422.3,265.1 L424.0,264.3 L425.8,267.0 L427.6,270.6 L429.4,271.3 L431.6,265.9 L433.8,259.0 L436.0,254.7 L436.5,288.1 L437.5,262.3 L439.4,257.2 L441.3,256.5 L443.2,257.8 L445.1,249.1 L447.0,247.3 L448.8,248.6 L450.5,248.0 L452.2,245.0 L454.0,242.2 L455.8,245.8 L457.6,247.8 L459.4,249.6 L461.2,248.6 L462.9,249.8 L464.7,244.5 L466.6,247.0 L468.6,245.1 L470.5,246.2 L472.5,245.9 L474.4,246.3 L476.4,242.4 L478.3,246.6 L480.2,242.5 L482.2,242.0 L484.1,243.7 L486.1,240.5 L488.0,242.8 L490.0,242.6 L492.0,242.5 L494.0,241.4 L496.0,239.9 L498.0,239.3 L500.0,236.8 L502.0,238.7 L504.0,234.8 L506.0,233.9 L508.2,231.1 L510.4,230.6 L512.5,224.8 L514.7,222.4 L516.9,221.5 L519.1,220.5 L521.3,220.0 L523.5,219.2 L525.5,220.2 L527.4,219.6 L529.4,218.2 L531.4,217.9 L533.3,218.5 L535.3,220.2 L537.5,221.5 L539.6,222.7 L541.8,222.4 L544.0,223.7 L546.0,228.0 L548.0,229.6 L550.0,231.8 L552.0,232.5 L554.0,229.0 L556.0,230.0 L558.0,233.9 L560.0,235.3 L562.0,235.3 L564.0,236.0 L566.0,242.8 L568.0,240.5 L570.0,244.6 L572.0,242.1 L574.0,236.3 L576.0,237.5 L578.0,236.9 L580.0,233.8 L582.0,229.4 L584.0,224.9 L586.0,218.9 L588.0,215.4 L590.0,205.6 L592.0,207.8 L594.0,209.3 L596.0,213.0 L598.0,218.2 L600.0,224.3 L602.0,226.3 L604.0,238.7 L606.0,248.1 L608.0,252.9 L610.0,255.5 L612.0,258.6 L614.0,264.7 L616.0,255.2 L618.0,250.6 L620.0,246.4 L622.0,245.3 L624.0,245.1 L626.0,239.0 L628.0,244.7 L630.0,242.3 L632.0,236.1 L634.0,233.7 L636.0,229.1 L638.0,231.0 L640.0,225.4 L642.0,231.8 L644.0,237.3 L646.0,237.1 L648.0,240.5 L650.0,249.5 L652.0,256.6 L654.0,264.6 L656.0,268.4 L658.0,267.3 L660.0,269.5 L662.0,265.8 L664.0,261.1 L666.0,259.0 L668.0,251.9 L670.0,249.4 L672.0,249.8 L674.0,247.3 L676.0,247.5 L678.0,244.1 L680.0,244.8 L682.0,244.8 L684.0,242.6 L686.0,240.4 L688.0,243.4 L690.0,246.8 L692.0,246.0 L694.0,251.6 L696.0,250.6 L698.0,248.4 L700.0,250.4 L702.0,250.1 L704.0,247.1 L706.0,248.7 L708.0,249.0 L710.0,253.1 L712.0,253.9 L714.0,258.5 L716.0,254.9 L718.0,251.0 L720.0,248.7 L722.0,243.7 L724.0,248.1 L726.0,245.5 L728.0,247.0 L730.0,245.0 L732.0,244.7 L734.0,244.1 L736.0,241.6 L738.0,243.2 L740.0,236.4 L742.0,242.0 L744.0,240.2 L746.0,240.5 L748.0,243.8 L750.0,246.6 L752.0,253.6 L754.0,248.3 L756.0,250.4 L758.0,247.7 L760.0,247.1 L762.0,242.8 L764.0,245.1 L766.0,243.0 L768.0,245.0 L770.0,247.1 L772.0,244.5 L774.0,244.9 L776.0,240.9 L778.0,249.1 L780.0,253.9 L782.0,251.0 L784.0,253.1 L786.0,245.1 L788.0,245.4 L790.0,244.8 L792.0,244.5 L794.0,241.9 L796.0,246.5 L798.0,251.2 L800.0,256.5 L802.0,257.9 L804.0,256.7 L806.0,256.4 L808.0,261.9 L810.0,255.1 L812.0,261.5 L814.0,265.7 L816.0,263.1 L818.0,263.0 L820.0,267.0 L822.0,271.7 L824.0,274.0 L826.0,272.2 L828.0,270.6 L830.0,266.6 L832.0,263.6 L834.0,262.8 L836.0,258.4 L838.0,256.3 L840.0,258.2 L842.0,264.8 L844.0,269.4 L846.0,273.6 L848.0,275.0 L850.0,266.3 L852.0,267.6 L854.0,262.4 L856.0,265.2 L858.0,267.6 L860.0,271.7 L862.0,271.1 L864.0,273.9 L866.0,274.8 L868.0,279.5 L870.0,273.0 L872.0,273.2 L874.0,267.5 L876.0,265.7 L878.0,264.1 L880.0,258.3 L882.0,255.9 L884.0,253.7 L886.0,252.8 L888.0,249.6 L890.0,253.3 L892.0,256.4 L894.0,261.1 L896.0,258.0 L898.0,260.0 L900.0,258.2 L902.0,259.6 L904.0,261.3 L906.0,258.0 L908.0,256.7 L910.0,256.5 L912.0,258.5 L914.0,261.6 L916.0,267.6 L918.0,270.2 L920.0,268.3 L922.0,273.2 L924.0,277.0 L926.0,275.1 L928.0,272.3 L930.0,266.0 L932.0,265.8 L934.0,267.1 L936.0,263.8 L938.0,259.1 L940.0,253.8 L942.0,257.5 L944.0,255.8 L946.0,255.6 L948.0,259.2 L950.0,260.4 L952.0,256.8 L954.0,263.5 L956.0,265.9 L958.0,265.6 L960.0,271.8 L962.0,267.4 L964.0,267.6 L966.0,267.7 L968.0,268.3 L970.0,272.4 L972.0,271.1 L974.0,274.1 L976.0,277.5 L978.0,283.2 L980.0,283.4 L982.0,285.0 L984.0,283.6 L986.0,282.8 L988.0,284.3 L990.0,285.8 L992.0,283.2 L994.0,285.5 L996.0,284.5 L998.0,277.0 L1000.0,273.8 L1002.0,274.1 L1004.0,269.5 L1006.0,266.0 L1008.0,261.5 L1010.0,265.6 L1012.0,265.7 L1014.0,265.0 L1016.0,266.4 L1018.0,269.2 L1020.0,269.1 L1022.0,267.6 L1024.0,270.4 L1026.0,266.7 L1028.0,265.3 L1030.0,262.1 L1032.0,257.8 L1034.0,257.7 L1036.0,253.4 L1038.0,258.5 L1040.0,259.7 L1042.0,264.3 L1044.0,265.3 L1046.0,267.0 L1048.0,269.4 L1050.0,268.7 L1052.0,272.3 L1054.0,271.6 L1056.0,272.9 L1058.0,269.3 L1060.0,269.2 L1062.0,270.7 L1064.0,276.2 L1066.0,282.5 L1068.0,285.0 L1070.0,285.5 L1072.0,285.1 L1074.0,290.0 L1076.0,291.5 L1078.0,296.8 L1080.0,295.7 L1082.0,293.4 L1084.0,291.0 L1086.0,292.6 L1088.0,293.2 L1090.0,294.2 L1092.0,292.2 L1094.0,290.8 L1096.0,286.0 L1098.0,285.6 L1100.0,289.9" stroke="#3d0a4d" stroke-width="2.3" stroke-dasharray="16.8 4.6 2.6 4.5"/>
<path d="M109.9,339.60 L251.9,339.59 L288.9,339.44 L301.9,339.22 L312.9,338.82 L321.9,338.19 L329.9,337.27 L335.9,336.25 L340.9,335.14 L345.9,333.75 L351.9,331.70 L356.9,329.71 L362.9,327.03 L383.9,316.68 L392.9,312.42 L400.9,308.88 L407.9,306.00 L417.9,302.22 L428.9,298.48 L439.9,295.15 L451.9,291.91 L464.9,288.80 L478.9,285.87 L493.9,283.13 L509.9,280.61 L526.9,278.29 L543.9,276.31 L562.9,274.41 L582.9,272.73 L600.9,271.44 L619.9,270.28 L639.9,269.24 L660.9,268.32 L683.9,267.48 L707.9,266.75 L733.9,266.10 L760.9,265.56 L821.9,264.68 L895.9,264.05 L985.9,263.63 L1101.9,263.37" stroke="#a8083c" stroke-width="2.3"/>
<path d="M320.0,333.9 L322.0,337.4 L323.9,336.6 L325.9,336.6 L327.8,335.1 L329.8,332.8 L331.7,333.7 L333.7,336.3 L335.6,334.6 L337.6,334.3 L339.8,332.0 L342.1,330.4 L344.3,332.5 L346.5,330.9 L348.4,330.6 L350.4,330.6 L352.3,330.6 L354.3,330.6 L356.2,330.6 L358.2,330.6 L360.1,330.6 L362.1,329.7 L364.0,330.3 L366.2,329.2 L368.5,325.4 L370.8,326.0 L373.0,328.0 L374.7,325.3 L376.5,324.8 L378.2,325.4 L380.3,324.4 L382.3,325.7 L384.4,325.6 L386.5,325.4 L388.5,325.9 L390.6,327.0 L392.5,327.0 L394.4,327.0 L396.3,327.0 L398.2,327.0 L400.1,327.4 L402.0,327.4 L403.0,309.3 L404.7,307.3 L406.5,304.2 L408.2,301.5 L410.0,284.8 L411.8,288.2 L413.5,291.7 L415.3,297.5 L417.1,297.7 L418.8,296.2 L420.6,297.7 L422.5,299.0 L424.4,299.2 L426.2,299.1 L428.1,302.9 L430.0,295.7 L432.1,299.9 L434.2,298.4 L436.4,296.6 L438.5,297.9 L440.6,297.9 L442.8,299.5 L444.9,301.1 L447.0,297.7 L449.1,300.0 L451.2,295.0 L453.4,296.6 L455.5,292.5 L457.6,291.5 L459.4,288.1 L461.2,285.5 L462.9,281.0 L464.7,277.2 L466.5,280.8 L468.2,280.6 L470.0,283.8 L472.2,277.4 L474.3,281.0 L476.5,283.1 L478.3,284.0 L480.2,288.9 L482.0,294.9 L484.0,288.7 L486.0,279.3 L488.0,278.0 L490.0,276.2 L492.0,273.8 L494.0,269.9 L496.0,267.9 L498.0,265.0 L500.0,263.9 L502.0,265.5 L503.9,262.4 L505.9,264.5 L507.9,259.8 L509.8,256.0 L511.8,258.4 L513.8,259.2 L515.7,258.3 L517.6,257.5 L519.6,254.8 L521.5,257.2 L523.5,254.4 L525.6,255.8 L527.7,252.6 L529.8,250.3 L531.9,254.0 L534.0,248.7 L535.8,249.6 L537.5,249.7 L539.2,244.8 L541.0,244.6 L543.0,250.7 L545.0,257.3 L547.0,268.3 L548.5,269.0 L550.0,274.9 L552.0,272.7 L554.0,271.1 L556.0,270.8 L558.0,273.4 L560.0,273.0 L562.0,273.9 L564.0,282.2 L566.0,283.2 L568.0,290.0 L570.0,290.0 L572.0,290.0 L574.0,290.2 L576.0,290.3 L578.0,287.3 L580.0,288.0 L582.0,284.2 L584.0,279.6 L586.0,272.7 L588.0,270.9 L590.0,268.9 L592.0,268.6 L594.0,269.9 L596.0,264.8 L598.0,270.4 L600.0,277.4 L602.0,274.5 L604.0,280.3 L606.0,285.2 L608.0,284.7 L610.0,281.6 L612.0,283.9 L614.0,285.0 L616.0,281.8 L618.0,283.9 L620.0,282.2 L622.0,281.1 L624.0,278.8 L626.0,284.1 L628.0,282.8 L630.0,283.9 L632.0,286.0 L634.0,287.3 L636.0,291.5 L638.0,294.7 L640.0,291.9 L642.0,287.9 L644.0,283.6 L646.0,284.5 L648.0,286.7 L650.0,285.7 L652.0,292.0 L654.0,288.6 L656.0,289.3 L658.0,293.0 L660.0,291.5 L662.0,291.6 L664.0,290.3 L666.0,290.3 L668.0,290.9 L670.0,290.3 L672.0,288.9 L674.0,290.3 L676.0,288.5 L678.0,288.3 L680.0,284.6 L682.0,288.7 L684.0,289.9 L686.0,290.6 L688.0,287.8 L690.0,286.3 L692.0,284.7 L694.0,274.3 L696.0,263.8 L698.0,265.6 L700.0,261.7 L702.0,261.2 L704.0,264.3 L706.0,264.9 L708.0,263.6 L710.0,267.5 L712.0,267.1 L714.0,266.5 L716.0,267.4 L718.0,266.4 L720.0,267.9 L722.0,270.8 L724.0,273.9 L726.0,275.1 L728.0,277.1 L730.0,276.8 L732.0,278.6 L734.0,279.3 L736.0,281.2 L738.0,279.6 L740.0,281.7 L742.0,288.3 L744.0,287.4 L746.0,289.9 L748.0,290.5 L750.0,291.7 L752.0,292.0 L754.0,293.5 L756.0,291.9 L758.0,294.3 L760.0,292.1 L762.0,293.6 L764.0,288.4 L766.0,290.0 L768.0,292.4 L770.0,289.1 L772.0,287.5 L774.0,286.4 L776.0,283.3 L778.0,287.1 L780.0,285.6 L782.0,288.9 L784.0,288.0 L786.0,289.6 L788.0,287.8 L790.0,277.5 L792.0,271.8 L794.0,268.7 L796.0,268.9 L798.0,270.0 L800.0,280.8 L802.0,282.7 L804.0,286.5 L806.0,290.1 L808.0,293.6 L810.0,298.6 L812.0,297.1 L814.0,303.0 L816.0,303.6 L818.0,303.9 L820.0,311.8 L822.0,325.3 L824.0,320.1 L826.0,318.0 L828.0,308.9 L830.0,306.9 L832.0,301.3 L834.0,297.4 L836.0,298.0 L838.0,298.0 L840.0,298.9 L842.0,298.8 L844.0,300.1 L846.0,303.7 L848.0,305.4 L850.0,307.3 L852.0,314.3 L854.0,316.9 L856.0,324.1 L858.0,317.3 L860.0,314.8 L862.0,310.3 L864.0,303.5 L866.0,300.1 L868.0,296.2 L870.0,295.6 L872.0,291.8 L874.0,289.5 L876.0,288.5 L878.0,285.4 L880.0,283.5 L882.0,285.2 L884.0,285.7 L885.9,283.3 L887.7,286.4 L889.6,285.4 L891.4,285.3 L893.3,282.9 L894.8,291.3 L897.0,295.7 L899.2,300.1 L902.0,323.6 L903.6,295.8 L904.0,293.5 L906.0,293.6 L907.9,293.6 L909.9,293.6 L911.8,293.6 L913.8,293.6 L915.7,293.6 L917.6,293.6 L919.6,293.6 L921.5,293.6 L923.5,293.6 L925.5,293.6 L927.4,293.6 L929.4,293.6 L931.3,293.6 L933.2,293.6 L935.2,293.6 L937.1,293.2 L939.1,293.8 L940.6,298.7 L943.5,308.6 L945.0,304.7 L946.5,296.1 L946.8,290.7 L948.0,283.5 L950.1,283.3 L952.1,283.3 L954.2,283.3 L956.3,283.3 L958.4,283.3 L960.4,283.3 L962.5,283.3 L964.6,283.3 L966.6,284.6 L968.7,284.4 L970.7,283.4 L972.6,285.2 L974.6,285.7 L976.5,288.0 L978.3,287.8 L980.1,290.4 L982.0,292.1 L983.5,297.2 L985.0,308.0 L986.4,314.5 L987.9,319.4 L989.8,319.5 L991.7,319.5 L993.6,319.5 L995.5,319.5 L997.4,319.5 L999.3,319.5 L1001.2,319.0 L1002.6,312.3 L1004.1,304.6 L1005.6,302.6 L1007.8,302.7 L1010.0,302.8 L1012.2,302.0 L1014.5,304.1 L1016.0,296.0 L1017.4,275.2 L1020.0,271.3 L1022.0,271.5 L1024.1,271.5 L1026.1,271.5 L1028.2,271.5 L1030.2,271.5 L1032.3,271.5 L1034.3,271.5 L1036.4,271.5 L1038.4,271.5 L1040.5,271.4 L1042.5,271.2 L1044.0,277.0 L1046.0,278.4 L1048.0,278.4 L1050.0,280.9 L1051.8,284.2 L1053.7,284.2 L1055.5,284.7 L1057.3,285.9 L1059.5,284.6 L1061.8,290.8 L1064.0,285.8 L1066.2,287.6 L1068.2,287.7 L1070.2,287.7 L1072.2,287.7 L1074.2,287.7 L1076.1,287.7 L1078.1,287.7 L1080.1,287.7 L1082.1,287.7 L1084.1,287.7 L1086.1,287.7 L1088.1,287.7 L1090.1,287.7 L1092.0,287.7 L1094.0,287.7 L1096.0,287.7 L1098.0,287.7 L1100.0,287.7" stroke="#a8083c" stroke-width="2.3" stroke-dasharray="16.8 4.6 2.6 4.5"/>
<path d="M109.9,330.50 L239.9,330.49 L274.9,330.39 L287.9,330.24 L297.9,329.99 L306.9,329.56 L313.9,329.01 L318.9,328.45 L323.9,327.72 L328.9,326.77 L333.9,325.60 L338.9,324.21 L344.9,322.31 L363.9,315.57 L371.9,312.86 L378.9,310.66 L385.9,308.62 L395.9,305.98 L405.9,303.64 L416.9,301.34 L428.9,299.13 L442.9,296.88 L456.9,294.91 L472.9,292.96 L488.9,291.28 L505.9,289.72 L524.9,288.23 L544.9,286.89 L565.9,285.69 L584.9,284.76 L605.9,283.88 L649.9,282.42 L699.9,281.22 L756.9,280.26 L821.9,279.53 L898.9,278.98 L989.9,278.58 L1101.9,278.31" stroke="#e8601c" stroke-width="2.3"/>
<path d="M362.4,330.6 L364.4,330.6 L366.4,330.6 L368.3,330.6 L370.3,330.6 L372.3,330.6 L374.3,330.6 L376.2,330.6 L378.2,330.6 L380.2,330.6 L382.2,330.6 L384.2,330.6 L386.1,330.6 L388.1,330.6 L390.1,330.6 L392.1,330.6 L394.0,330.6 L396.0,330.6 L398.0,330.6 L400.0,330.6 L402.0,330.6 L403.9,330.6 L405.9,330.6 L407.9,330.6 L409.9,330.6 L411.8,330.6 L413.8,330.6 L415.8,330.7 L416.2,340.6 L416.6,310.8 L418.8,309.9 L420.8,310.2 L422.8,310.2 L424.9,310.2 L426.9,310.2 L428.9,310.2 L430.9,310.2 L433.0,310.2 L435.0,310.2 L437.0,310.2 L439.0,310.2 L441.1,310.2 L443.1,310.2 L445.1,310.2 L447.1,310.2 L449.2,310.2 L451.2,310.2 L453.2,310.2 L455.2,310.2 L457.2,310.2 L459.3,310.2 L461.3,310.2 L463.3,310.2 L465.3,310.2 L467.4,310.2 L469.4,310.2 L471.4,310.2 L473.4,310.2 L475.5,310.2 L477.5,310.2 L479.5,310.2 L481.5,310.2 L483.6,310.2 L485.6,310.2 L487.6,310.2 L489.6,310.2 L491.7,310.2 L493.7,310.2 L495.7,310.1 L497.8,310.4 L499.9,309.9 L502.1,311.2 L504.2,311.7 L506.6,314.3 L509.0,317.3 L511.4,313.9 L513.5,313.8 L515.5,313.8 L517.6,313.8 L519.7,313.8 L521.8,313.8 L523.8,313.8 L525.9,313.8 L528.0,313.8 L530.0,313.8 L532.1,313.8 L534.2,313.8 L536.3,313.8 L538.3,313.9 L540.4,313.7 L542.8,313.2 L545.3,312.6 L547.7,314.4 L550.1,316.1 L552.5,317.7 L555.0,317.8 L557.4,314.4 L559.8,311.7 L562.2,309.8 L564.6,308.1 L565.8,318.2 L567.0,299.2 L569.5,294.6 L571.5,294.5 L573.4,294.5 L575.4,294.5 L577.3,294.5 L579.3,294.5 L581.3,294.5 L583.2,294.5 L585.2,294.5 L587.2,294.5 L589.1,294.5 L591.1,294.5 L593.0,294.4 L595.0,294.5 L596.0,300.7 L598.5,306.0 L600.9,312.6 L602.0,314.0 L604.0,313.8 L606.0,313.8 L608.0,313.8 L610.0,313.8 L612.0,313.7 L614.0,313.6 L616.6,307.5 L619.0,314.6 L621.5,315.7 L623.9,317.3 L625.8,317.5 L627.7,317.5 L629.6,317.5 L631.5,317.5 L633.4,317.5 L635.3,317.5 L637.2,317.1 L639.6,308.1 L640.8,298.3 L642.0,297.4 L644.0,297.5 L646.0,297.5 L648.0,297.5 L650.0,297.5 L652.0,297.5 L654.0,297.5 L656.0,297.5 L658.0,297.5 L660.0,297.5 L662.0,297.5 L664.0,297.5 L666.0,297.5 L668.0,297.5 L670.0,297.5 L672.0,297.5 L674.0,297.5 L676.0,297.5 L678.0,297.5 L680.0,297.5 L682.0,297.5 L684.0,297.5 L686.0,297.5 L688.0,297.5 L690.0,297.5 L692.0,297.5 L694.0,297.5 L696.0,297.5 L698.0,297.5 L700.0,297.5 L702.0,297.5 L704.0,297.5 L706.0,297.6 L708.0,297.7 L710.0,309.8 L712.0,321.3 L714.0,320.7 L716.0,321.8 L718.0,321.3 L720.0,320.9 L722.0,321.7 L724.0,321.6 L726.0,321.0 L728.0,321.8 L730.0,321.0 L732.0,321.7 L734.0,322.1 L736.0,321.1 L738.0,321.9 L740.0,321.8 L742.0,321.6 L744.0,321.3 L746.0,322.0 L748.0,321.3 L750.0,321.5 L752.0,321.7 L754.0,321.4 L756.0,322.2 L758.0,321.4 L760.0,321.6 L762.0,321.9 L764.0,322.2 L766.0,322.2 L768.0,322.2 L769.0,309.9 L770.0,303.4 L772.0,303.5 L774.0,303.5 L776.0,303.5 L778.0,303.5 L780.0,303.5 L782.0,303.5 L784.0,303.5 L786.0,303.5 L787.9,303.5 L789.9,303.5 L791.9,303.5 L793.9,303.5 L795.9,303.5 L797.9,303.5 L799.9,303.5 L801.9,303.5 L803.9,303.5 L805.9,303.5 L807.9,303.5 L809.9,303.5 L811.9,303.5 L813.9,303.5 L815.9,303.5 L817.9,303.5 L819.9,303.5 L821.8,303.5 L823.8,303.5 L825.8,303.5 L827.8,303.5 L829.8,303.5 L831.8,303.5 L833.8,303.5 L835.8,303.5 L837.8,303.5 L839.8,303.5 L841.8,303.5 L843.8,303.5 L845.8,303.5 L847.8,303.5 L849.8,303.5 L851.8,303.5 L853.7,303.5 L855.7,303.5 L857.7,303.5 L859.7,303.5 L861.7,303.5 L863.7,303.5 L865.7,303.5 L867.7,303.5 L869.7,303.5 L871.7,303.5 L873.7,303.5 L875.7,303.5 L877.7,303.5 L879.7,303.5 L881.7,303.5 L883.7,303.5 L885.7,303.5 L887.6,303.5 L889.6,303.5 L891.6,303.5 L893.6,303.5 L895.6,303.5 L897.6,303.5 L899.6,303.5 L901.6,303.5 L903.6,303.5" stroke="#e8601c" stroke-width="2.3" stroke-dasharray="16.8 4.6 2.6 4.5"/>
<path d="M109.9,660.00 L259.9,660.00 L277.9,659.89 L284.9,659.59 L287.9,659.27 L289.9,658.94 L291.9,658.45 L293.9,657.75 L295.9,656.73 L296.9,656.06 L298.9,654.30 L299.9,653.17 L300.9,651.82 L301.9,650.23 L302.9,648.37 L303.9,646.21 L304.9,643.71 L306.9,637.64 L307.9,634.06 L309.9,625.91 L311.9,616.73 L317.9,587.62 L320.9,574.19 L322.9,565.92 L324.9,558.20 L327.9,547.58 L329.9,541.06 L332.9,532.03 L335.9,523.78 L338.9,516.19 L341.9,509.19 L345.9,500.64 L348.9,494.74 L352.9,487.46 L356.9,480.79 L360.9,474.64 L365.9,467.61 L370.9,461.21 L375.9,455.35 L381.9,448.97 L387.9,443.19 L393.9,437.94 L399.9,433.16 L406.9,428.09 L413.9,423.51 L420.9,419.37 L428.9,415.09 L436.9,411.24 L444.9,407.76 L453.9,404.25 L462.9,401.10 L472.9,397.98 L480.9,395.73 L489.9,393.43 L498.9,391.35 L507.9,389.46 L517.9,387.57 L527.9,385.87 L538.9,384.19 L549.9,382.68 L560.9,381.33 L572.9,380.02 L585.9,378.75 L598.9,377.63 L612.9,376.57 L626.9,375.63 L642.9,374.70 L658.9,373.88 L692.9,372.49 L729.9,371.35 L771.9,370.42 L818.9,369.67 L872.9,369.09 L935.9,368.64 L1010.9,368.31 L1101.9,368.08" stroke="#1a9a70" stroke-width="2.3"/>
<path d="M245.0,616.1 L246.0,613.0 L248.0,604.6 L250.0,588.1 L251.5,576.5 L253.0,561.3 L255.2,547.0 L257.5,539.6 L259.8,532.9 L262.0,527.0 L264.0,517.4 L266.0,509.3 L268.0,504.1 L270.0,494.8 L271.8,485.6 L273.5,474.7 L275.3,466.1 L277.1,454.7 L278.8,448.7 L280.6,436.3 L282.4,434.0 L284.1,434.2 L285.9,431.8 L287.6,431.2 L289.4,436.7 L291.1,437.1 L292.9,440.1 L294.6,446.1 L296.4,448.1 L298.2,450.4 L299.9,450.0 L301.7,454.8 L303.5,447.2 L305.2,442.8 L307.0,438.4 L308.8,435.2 L310.5,433.5 L312.3,428.9 L314.1,426.5 L315.8,423.0 L317.6,420.1 L319.4,417.1 L321.1,412.6 L322.9,411.5 L324.7,409.3 L326.4,406.2 L328.2,403.1 L330.0,400.7 L331.8,400.8 L333.5,402.5 L335.3,397.4 L337.0,403.2 L338.8,407.0 L340.5,407.2 L342.7,408.4 L344.9,414.0 L347.2,413.9 L349.4,412.4 L351.1,415.3 L352.9,414.5 L354.6,410.5 L356.4,416.2 L358.2,410.3 L359.9,409.7 L361.7,408.8 L363.5,410.8 L365.2,407.3 L367.0,408.2 L368.8,407.6 L370.5,404.6 L372.3,402.1 L374.0,401.5 L375.8,396.3 L377.6,399.6 L379.3,397.4 L381.1,398.6 L383.3,397.6 L385.5,395.9 L387.7,395.7 L389.9,393.9 L392.1,393.5 L394.4,394.1 L396.6,393.3 L398.8,391.0 L400.7,390.2 L402.5,389.9 L404.4,390.6 L406.3,389.7 L408.1,388.7 L410.0,386.9 L412.0,387.5 L414.0,385.7 L416.1,384.0 L418.1,389.1 L420.1,386.7 L422.1,387.3 L424.1,386.6 L426.2,389.1 L428.2,384.9 L430.2,386.8 L432.2,384.8 L434.2,382.7 L436.3,381.1 L438.3,383.2 L440.3,382.4 L442.3,381.7 L444.3,383.5 L446.4,380.7 L448.4,380.2 L450.4,379.3 L452.4,380.8 L454.4,380.2 L456.4,380.0 L458.4,384.1 L460.4,377.8 L462.4,381.1 L464.5,383.9 L466.5,383.0 L468.5,380.7 L470.6,381.6 L472.6,379.1 L474.6,377.7 L476.6,378.3 L478.6,375.9 L480.6,374.8 L482.6,374.3 L484.6,372.0 L486.7,376.0 L488.7,375.5 L490.7,379.1 L492.7,381.1 L494.7,386.4 L496.7,382.7 L498.8,381.6 L500.8,379.8 L502.8,380.3 L504.8,379.6 L506.8,378.4 L508.8,373.9 L510.8,372.7 L512.8,368.7 L514.8,367.0 L516.9,369.0 L518.9,368.0 L520.9,365.8 L522.9,364.6 L524.9,367.0 L527.0,363.3 L529.0,361.8 L531.0,366.0 L533.0,362.8 L535.0,363.2 L537.0,364.4 L539.0,362.4 L541.0,364.8 L543.0,359.8 L545.0,360.9 L547.1,363.4 L549.1,364.3 L551.1,371.3 L553.2,368.2 L555.2,372.0 L557.2,375.3 L559.2,375.2 L561.2,375.2 L563.2,375.2 L565.2,376.3 L567.2,374.9 L569.2,374.4 L571.2,375.2 L573.3,372.1 L575.3,373.1 L577.3,372.7 L579.3,373.2 L581.3,373.2 L583.3,373.2 L585.4,373.2 L587.4,372.7 L589.4,371.6 L591.4,378.2 L593.5,379.5 L595.5,381.7 L597.5,380.8 L599.5,382.2 L601.5,386.6 L603.5,387.6 L605.5,389.5 L607.5,390.2 L609.5,390.3 L611.5,390.3 L613.6,390.7 L615.6,388.0 L617.6,388.3 L619.6,389.6 L621.7,387.8 L623.7,386.3 L625.7,388.9 L627.7,387.0 L629.7,388.8 L631.8,382.9 L633.8,386.2 L635.8,386.1 L637.8,382.0 L639.8,383.5 L641.8,388.3 L643.8,386.9 L645.8,388.9 L647.8,392.3 L649.8,394.0 L651.9,396.5 L653.9,394.8 L655.9,395.7 L657.9,396.1 L659.9,394.7 L661.9,390.2 L663.9,393.9 L665.9,394.2 L668.0,392.2 L670.0,395.0 L672.0,390.8 L674.0,393.1 L676.0,392.3 L678.0,392.3 L680.0,392.3 L682.1,392.3 L684.1,392.1 L686.1,392.9 L688.1,394.8 L690.1,395.1 L692.1,390.9 L694.0,393.7 L696.0,393.9 L698.0,391.5 L700.0,390.8 L702.0,391.8 L704.0,395.0 L705.9,395.0 L707.9,391.3 L709.9,392.1 L711.9,394.4 L713.9,389.9 L715.9,391.3 L717.8,390.9 L719.8,390.2 L721.8,391.8 L724.0,391.4 L726.1,391.4 L728.3,391.4 L730.5,391.4 L732.6,391.9 L734.8,392.8 L736.7,391.9 L738.7,392.5 L740.6,397.6 L742.5,396.8 L744.5,398.4 L746.4,398.8 L748.3,399.6 L750.3,399.1 L752.2,402.3 L754.1,403.8 L756.1,401.6 L758.0,400.6 L760.0,403.6 L761.9,401.7 L763.9,403.2 L765.8,406.5 L767.8,408.2 L769.7,405.3 L771.6,403.1 L773.5,404.2 L775.5,400.6 L777.4,401.7 L779.3,405.6 L781.2,404.1 L783.2,401.4 L785.1,400.5 L787.0,403.1 L788.9,402.2 L790.9,400.8 L792.8,401.7 L794.8,399.7 L796.7,397.8 L798.7,401.6 L800.6,398.7 L802.6,396.3 L804.5,395.3 L806.7,399.6 L808.9,401.0 L811.0,404.6 L813.2,404.5 L815.1,407.3 L817.1,404.9 L819.0,404.5 L820.9,402.7 L822.9,403.2 L824.8,407.1 L826.7,411.1 L828.7,404.5 L830.6,404.3 L832.6,407.0 L834.6,408.5 L836.5,406.2 L838.5,406.8 L840.5,405.1 L842.5,406.2 L844.5,407.2 L846.5,409.0 L848.4,406.7 L850.4,407.2 L852.4,408.5 L854.4,409.9 L856.3,408.8 L858.3,406.5 L860.3,407.9 L862.3,409.3 L864.2,407.2 L866.2,406.4 L868.2,409.0 L870.2,406.0 L872.1,406.6 L874.1,405.6 L876.0,405.6 L878.0,405.5 L879.9,406.6 L881.9,407.4 L883.8,408.0 L885.8,408.8 L887.7,411.4 L889.7,408.0 L891.6,410.9 L893.8,410.5 L895.9,413.5 L898.1,412.4 L900.3,412.6 L902.4,414.6 L904.6,415.4 L906.5,415.3 L908.3,415.3 L910.2,415.3 L912.1,415.3 L914.0,415.3 L915.8,416.0 L917.7,415.7 L919.6,412.9 L921.6,415.6 L923.5,415.9 L925.4,415.1 L927.4,414.3 L929.3,413.0 L931.2,412.1 L933.2,414.2 L935.1,414.7 L937.0,413.4 L939.0,415.0 L940.9,415.7 L942.8,413.8 L944.8,413.5 L946.7,413.2 L948.6,416.9 L950.6,416.5 L952.5,415.5 L954.4,414.3 L956.4,416.3 L958.3,418.7 L960.2,416.8 L962.2,417.9 L964.1,418.5 L966.0,416.5 L968.0,418.4 L969.9,419.2 L971.8,416.9 L973.8,417.6 L975.7,418.6 L977.6,417.9 L979.6,419.2 L981.5,419.5 L983.4,421.5 L985.4,420.0 L987.3,421.0 L989.2,422.4 L991.2,423.4 L993.1,423.2 L995.0,419.4 L997.0,422.1 L998.9,422.2 L1000.8,421.3 L1002.8,422.3 L1004.7,422.2 L1006.6,423.5 L1008.6,418.4 L1010.5,422.1 L1012.5,422.0 L1014.4,421.9 L1016.4,424.9 L1018.3,425.5 L1020.3,422.9 L1022.2,424.8 L1024.2,425.9 L1026.1,422.5 L1028.1,426.4 L1030.1,425.6 L1032.1,427.2 L1034.0,427.5 L1036.0,430.2 L1038.0,427.8 L1040.0,428.2 L1041.9,432.2 L1043.9,430.3 L1045.8,429.4 L1047.8,426.7 L1049.7,429.1 L1051.6,426.6 L1053.6,425.6 L1055.5,424.9 L1057.4,421.0 L1059.4,419.1 L1061.3,418.4 L1063.3,421.3 L1065.3,420.0 L1067.2,422.8 L1069.2,420.0 L1071.2,420.1 L1073.2,418.2 L1075.2,422.2 L1077.2,418.1 L1079.1,422.2 L1081.1,422.5 L1083.1,422.0 L1085.2,421.8 L1087.3,421.8 L1089.4,421.8 L1091.5,421.8 L1093.7,421.8 L1095.8,421.8 L1097.9,421.8 L1100.0,421.8" stroke="#1a9a70" stroke-width="2.3" stroke-dasharray="16.8 4.6 2.6 4.5"/>
<path d="M109.9,617.00 L236.9,616.98 L252.9,616.90 L263.9,616.71 L268.9,616.53 L273.9,616.22 L277.9,615.84 L281.9,615.27 L284.9,614.67 L287.9,613.86 L290.9,612.79 L292.9,611.88 L295.9,610.16 L297.9,608.72 L299.9,607.01 L301.9,604.98 L303.9,602.60 L305.9,599.84 L307.9,596.67 L309.9,593.10 L312.9,587.00 L315.9,580.15 L326.9,552.68 L331.9,541.03 L334.9,534.60 L337.9,528.60 L340.9,523.01 L344.9,516.16 L347.9,511.43 L350.9,507.02 L353.9,502.88 L357.9,497.76 L360.9,494.19 L364.9,489.75 L367.9,486.63 L371.9,482.72 L376.9,478.22 L382.9,473.29 L387.9,469.53 L393.9,465.39 L399.9,461.61 L405.9,458.13 L412.9,454.43 L419.9,451.06 L426.9,447.98 L434.9,444.77 L442.9,441.87 L450.9,439.22 L458.9,436.81 L467.9,434.34 L476.9,432.10 L486.9,429.85 L495.9,428.01 L504.9,426.33 L513.9,424.80 L523.9,423.24 L533.9,421.82 L544.9,420.41 L555.9,419.13 L567.9,417.87 L591.9,415.71 L618.9,413.75 L647.9,412.07 L679.9,410.60 L713.9,409.39 L751.9,408.34 L793.9,407.46 L840.9,406.74 L892.9,406.15 L952.9,405.68 L1021.9,405.31 L1101.9,405.03" stroke="#5cbfa5" stroke-width="2.3"/>
<path d="M245.0,618.6 L246.8,608.1 L248.5,602.1 L250.2,594.4 L252.0,588.3 L254.0,579.5 L256.0,569.2 L258.0,560.1 L259.8,547.3 L261.7,537.8 L263.5,525.0 L265.6,516.4 L267.6,508.9 L269.7,498.9 L271.8,491.4 L273.6,482.1 L275.3,473.9 L277.1,470.6 L278.8,463.8 L280.6,468.0 L282.4,469.4 L284.1,468.9 L285.9,466.9 L287.6,467.9 L289.4,471.4 L291.1,474.9 L292.9,478.0 L294.7,474.5 L296.4,474.5 L298.2,476.7 L300.0,472.9 L301.8,473.6 L303.5,470.6 L305.2,465.3 L307.0,465.8 L308.8,462.6 L310.5,459.0 L312.3,455.7 L314.1,455.9 L315.8,457.4 L317.6,454.5 L319.4,454.8 L321.1,452.5 L322.9,452.8 L324.7,452.4 L326.4,448.4 L328.2,446.8 L329.9,448.5 L331.7,446.9 L333.5,443.5 L335.2,444.6 L337.0,444.7 L339.2,448.8 L341.4,446.7 L343.6,450.5 L345.8,453.4 L347.6,450.3 L349.4,453.6 L351.1,448.0 L352.9,455.0 L355.1,452.9 L357.3,450.7 L359.5,456.0 L361.7,458.4 L363.5,455.9 L365.2,454.7 L367.0,451.7 L368.8,444.6 L370.5,440.6 L372.2,436.4 L374.0,433.1 L375.8,431.1 L377.6,431.6 L379.3,432.6 L381.1,431.5 L383.3,431.1 L385.5,431.1 L387.7,430.6 L389.9,430.7 L392.1,431.0 L394.4,432.3 L396.6,436.3 L398.8,434.3 L400.7,434.4 L402.5,435.9 L404.4,436.5 L406.3,432.9 L408.1,433.3 L410.0,434.1 L412.0,432.1 L414.0,433.5 L416.1,436.0 L418.1,434.3 L420.1,437.7 L422.1,437.5 L424.1,440.7 L426.2,439.9 L428.2,437.8 L430.2,440.4 L432.2,435.9 L434.2,437.2 L436.3,434.1 L438.3,431.6 L440.3,428.5 L442.3,429.2 L444.3,430.5 L446.4,430.4 L448.4,432.4 L450.4,428.5 L452.4,429.8 L454.4,427.8 L456.4,424.5 L458.4,426.2 L460.4,422.6 L462.4,421.8 L464.4,424.7 L466.5,426.5 L468.5,429.4 L470.5,427.8 L472.5,431.0 L474.5,429.7 L476.6,429.4 L478.6,429.4 L480.6,426.8 L482.6,426.0 L484.6,428.0 L486.6,428.8 L488.7,428.6 L490.7,429.2 L492.7,427.3 L494.7,429.2 L496.7,426.1 L498.8,422.6 L500.8,424.1 L502.8,423.9 L504.8,421.1 L506.8,421.0 L508.8,419.5 L510.8,415.6 L512.8,415.9 L514.8,416.2 L516.8,417.5 L518.8,417.2 L520.9,413.3 L522.9,414.3 L524.9,415.5 L526.9,414.2 L529.0,414.0 L531.0,408.3 L533.0,408.3 L535.0,408.2 L537.0,411.7 L539.0,409.9 L541.1,415.5 L543.1,415.2 L545.1,415.9 L547.1,413.0 L549.1,416.2 L551.1,420.9 L553.1,416.9 L555.1,419.9 L557.2,420.7 L559.2,424.1 L561.2,425.1 L563.2,426.7 L565.2,423.8 L567.3,423.8 L569.3,422.3 L571.3,423.0 L573.3,422.1 L575.3,425.1 L577.3,421.0 L579.3,425.5 L581.3,424.0 L583.3,424.4 L585.3,422.3 L587.4,423.8 L589.4,425.0 L591.4,421.1 L593.4,423.1 L595.5,423.8 L597.5,425.5 L599.5,424.4 L601.5,427.7 L603.5,428.8 L605.5,428.2 L607.5,429.9 L609.5,429.8 L611.5,434.0 L613.5,434.1 L615.6,436.7 L617.6,433.2 L619.6,434.4 L621.7,436.9 L623.7,434.5 L625.7,438.0 L627.7,436.8 L629.7,439.3 L631.8,437.9 L633.8,437.6 L635.8,440.1 L637.8,438.9 L639.8,436.4 L641.8,438.9 L643.8,437.8 L645.8,440.0 L647.8,438.8 L649.8,439.2 L651.8,442.6 L653.9,440.6 L655.9,442.0 L657.9,443.2 L659.9,443.2 L661.9,446.3 L664.0,442.3 L666.0,442.5 L668.0,445.4 L670.0,442.7 L672.0,443.4 L674.0,445.1 L676.0,443.2 L678.1,442.0 L680.1,440.6 L682.1,441.1 L684.1,440.9 L686.1,442.4 L688.1,443.9 L690.1,444.0 L692.0,439.8 L694.0,441.2 L696.0,442.8 L698.0,438.0 L700.0,440.4 L702.0,442.8 L704.0,442.0 L705.9,441.5 L707.9,443.8 L709.9,442.5 L711.9,443.0 L713.9,444.1 L715.9,445.7 L717.8,445.8 L719.8,449.4 L721.8,448.6 L723.8,447.9 L725.7,447.3 L727.7,447.9 L729.7,447.9 L731.7,449.8 L733.6,449.3 L735.6,449.5 L737.6,450.7 L739.6,448.6 L741.5,450.9 L743.5,449.8 L745.5,448.7 L747.5,451.5 L749.4,448.9 L751.4,452.0 L753.4,450.9 L755.4,452.7 L757.4,455.4 L759.4,455.0 L761.3,453.4 L763.3,455.9 L765.3,457.3 L767.3,456.2 L769.2,454.6 L771.2,456.9 L773.2,457.2 L775.2,453.3 L777.1,455.1 L779.1,455.8 L781.1,456.0 L783.1,454.1 L785.0,456.3 L787.0,452.2 L788.9,454.6 L790.9,456.3 L792.8,451.9 L794.8,453.8 L796.7,453.6 L798.7,453.0 L800.6,450.8 L802.6,451.8 L804.5,450.3 L806.4,451.8 L808.4,452.2 L810.3,452.0 L812.2,452.0 L814.2,453.1 L816.1,453.5 L818.0,453.6 L820.0,454.1 L821.9,454.2 L823.9,451.9 L825.9,450.5 L827.8,456.7 L829.8,457.4 L831.8,454.6 L833.8,456.4 L835.8,457.3 L837.8,458.7 L839.7,458.7 L841.7,460.5 L843.7,459.2 L845.7,458.4 L847.6,457.2 L849.6,456.8 L851.6,458.9 L853.6,457.9 L855.5,458.1 L857.5,456.6 L859.5,456.9 L861.5,454.2 L863.4,455.1 L865.4,450.9 L867.4,453.7 L869.4,454.7 L871.3,453.2 L873.3,453.6 L875.3,450.7 L877.3,455.2 L879.3,453.0 L881.3,451.6 L883.2,452.9 L885.2,453.2 L887.2,454.1 L889.2,451.8 L891.2,451.6 L893.1,454.2 L895.1,456.6 L897.1,454.8 L899.1,453.4 L901.1,455.7 L903.1,454.8 L905.0,457.2 L907.0,454.2 L909.0,455.7 L911.0,458.1 L912.9,457.3 L914.9,458.9 L916.9,462.9 L918.9,460.5 L920.8,462.3 L922.8,462.5 L924.8,463.5 L926.8,466.3 L928.7,464.7 L930.7,463.8 L932.7,468.7 L934.7,467.3 L936.6,468.1 L938.6,466.3 L940.6,465.8 L942.6,466.5 L944.6,466.4 L946.6,462.6 L948.5,465.8 L950.5,463.1 L952.5,465.1 L954.5,468.9 L956.5,465.5 L958.4,467.2 L960.4,463.9 L962.4,466.0 L964.4,464.3 L966.4,465.0 L968.4,462.2 L970.3,462.5 L972.3,464.7 L974.3,464.1 L976.3,465.4 L978.2,465.4 L980.2,465.4 L982.2,465.4 L984.2,465.4 L986.1,465.4 L988.1,465.4 L990.1,465.4 L992.1,465.4 L994.0,466.0 L996.0,464.4 L998.0,462.1 L1000.0,465.4 L1001.9,466.0 L1003.9,467.8 L1005.9,465.2 L1007.9,469.3 L1009.9,467.7 L1011.9,469.8 L1013.8,468.4 L1015.8,471.4 L1017.8,470.8 L1019.8,472.1 L1021.8,469.4 L1023.7,468.5 L1025.7,470.7 L1027.7,468.7 L1029.7,470.5 L1031.7,469.2 L1033.7,471.0 L1035.6,469.7 L1037.6,470.7 L1039.6,471.4 L1041.6,470.5 L1043.5,472.1 L1045.5,470.5 L1047.5,472.7 L1049.5,471.6 L1051.4,468.4 L1053.4,472.0 L1055.4,476.3 L1057.4,474.1 L1059.3,473.9 L1061.3,474.4 L1063.3,473.7 L1065.3,473.9 L1067.2,476.1 L1069.2,475.9 L1071.2,475.8 L1073.2,476.6 L1075.2,477.3 L1077.2,477.7 L1079.1,477.3 L1081.1,477.0 L1083.1,478.1 L1085.2,476.7 L1087.3,477.2 L1089.4,478.2 L1091.5,475.9 L1093.7,473.5 L1095.8,477.5 L1097.9,475.2 L1100.0,478.7" stroke="#5cbfa5" stroke-width="2.3" stroke-dasharray="16.8 4.6 2.6 4.5"/>
<path d="M109.9,637.40 L274.9,637.34 L281.9,637.16 L286.9,636.77 L288.9,636.47 L290.9,636.05 L293.9,635.04 L295.9,634.00 L296.9,633.33 L298.9,631.64 L300.9,629.37 L301.9,628.00 L303.9,624.74 L305.9,620.84 L307.9,616.41 L316.9,594.21 L319.9,587.18 L322.9,580.59 L325.9,574.42 L329.9,566.81 L332.9,561.52 L336.9,554.96 L340.9,548.91 L344.9,543.30 L348.9,538.09 L352.9,533.23 L356.9,528.70 L361.9,523.43 L365.9,519.51 L370.9,514.94 L376.9,509.90 L382.9,505.29 L388.9,501.06 L394.9,497.17 L400.9,493.59 L407.9,489.76 L414.9,486.27 L421.9,483.08 L428.9,480.17 L436.9,477.13 L444.9,474.38 L452.9,471.88 L461.9,469.34 L470.9,467.05 L479.9,464.99 L489.9,462.93 L497.9,461.45 L506.9,459.92 L515.9,458.54 L524.9,457.29 L543.9,455.01 L564.9,452.97 L587.9,451.18 L612.9,449.65 L639.9,448.38 L669.9,447.30 L701.9,446.44 L736.9,445.76 L776.9,445.20 L821.9,444.77 L873.9,444.44 L934.9,444.21 L1101.9,443.94" stroke="#7a2a38" stroke-width="2.3"/>
<path d="M250.0,637.7 L251.8,642.0 L254.0,600.1 L256.5,564.9 L258.2,558.9 L260.0,558.5 L261.8,557.3 L263.5,554.2 L265.3,549.1 L267.1,548.5 L268.8,541.5 L270.6,535.5 L272.8,537.4 L274.9,536.7 L277.1,534.4 L279.2,530.0 L281.4,532.3 L283.5,529.3 L285.4,528.7 L287.4,526.8 L289.3,533.1 L291.3,533.6 L293.2,534.2 L295.2,530.9 L297.1,531.7 L299.1,536.5 L301.0,537.4 L303.2,533.4 L305.3,529.9 L307.5,527.6 L309.7,524.1 L311.8,521.9 L314.0,516.3 L316.2,517.4 L318.3,514.0 L320.5,515.6 L322.7,513.5 L324.8,508.7 L327.0,511.9 L329.0,506.5 L331.0,509.9 L333.0,511.7 L335.0,512.3 L337.0,506.9 L339.0,512.1 L341.0,513.6 L343.0,513.5 L345.0,508.6 L347.0,512.3 L349.0,514.4 L351.0,513.8 L353.0,519.8 L355.0,515.9 L356.9,517.6 L358.9,514.3 L360.9,510.6 L362.8,509.4 L364.7,507.2 L366.6,503.4 L368.5,501.5 L370.6,499.9 L372.8,503.2 L374.9,499.2 L377.0,496.6 L379.1,500.5 L381.2,499.6 L383.3,496.4 L385.4,494.9 L387.5,494.0 L389.6,495.7 L391.8,489.8 L393.9,486.1 L396.0,487.9 L398.1,494.9 L400.3,492.2 L402.4,494.8 L404.5,498.0 L406.6,499.5 L408.7,497.1 L410.8,501.1 L412.9,499.6 L415.1,498.2 L417.2,498.8 L419.3,496.8 L421.2,497.0 L423.1,497.0 L425.0,497.0 L426.8,497.0 L428.7,497.1 L430.6,496.5 L432.7,496.6 L434.9,497.4 L437.0,499.0 L439.1,500.1 L441.2,499.1 L443.4,497.1 L445.5,491.5 L447.6,493.6 L449.7,490.0 L451.8,489.5 L453.9,487.8 L456.0,490.4 L457.9,486.1 L459.8,488.7 L461.6,490.5 L463.5,491.0 L465.4,489.2 L467.3,485.9 L469.3,483.4 L471.4,488.0 L473.4,486.9 L475.4,485.4 L477.4,485.4 L479.5,483.0 L481.5,482.3 L483.4,484.6 L485.3,484.9 L487.1,481.8 L489.0,484.8 L490.9,484.7 L492.8,487.0 L494.8,485.4 L496.8,488.4 L498.8,488.2 L500.9,489.0 L502.9,485.5 L504.9,489.3 L506.9,488.1 L508.8,484.5 L510.7,487.3 L512.5,483.2 L514.4,488.5 L516.3,490.0 L518.2,484.3 L520.1,487.1 L522.0,485.8 L523.9,485.3 L525.7,481.7 L527.6,485.1 L529.5,483.1 L531.4,484.4 L533.3,483.8 L535.1,485.4 L537.0,484.9 L538.9,485.8 L540.8,486.2 L542.7,485.6 L544.6,485.6 L546.5,485.6 L548.3,485.6 L550.2,485.2 L552.1,486.8 L554.1,489.5 L556.0,489.0 L558.0,492.5 L560.0,492.2 L562.1,491.5 L564.2,495.7 L566.4,499.1 L568.5,499.9 L570.6,496.6 L572.8,496.7 L574.9,494.4 L577.0,496.9 L578.9,493.7 L580.7,492.6 L582.6,490.3 L584.5,491.0 L586.3,488.9 L588.2,487.3 L590.3,490.6 L592.5,491.3 L594.6,497.5 L596.7,494.4 L598.7,496.9 L600.7,496.4 L602.7,495.3 L604.8,501.7 L606.8,494.6 L608.8,501.2 L610.8,496.4 L612.7,500.2 L614.5,504.2 L616.4,497.3 L618.3,499.5 L620.1,503.4 L622.0,502.6 L624.0,501.8 L626.1,503.6 L628.1,502.9 L630.2,506.4 L632.2,510.0 L634.3,508.5 L636.3,509.7 L638.3,510.9 L640.3,511.9 L642.3,508.3 L644.4,511.0 L646.4,509.5 L648.4,508.7 L650.4,509.4 L652.3,509.3 L654.2,507.5 L656.0,506.6 L657.9,507.3 L659.8,509.4 L661.7,512.9 L663.6,511.1 L665.5,511.1 L667.4,514.1 L669.2,514.2 L671.1,515.9 L673.0,517.0 L675.1,517.9 L677.2,513.5 L679.4,511.2 L681.5,508.4 L683.4,512.6 L685.3,511.2 L687.1,516.5 L689.0,512.4 L690.9,516.4 L692.8,517.2 L694.7,517.8 L696.5,511.9 L698.4,518.9 L700.3,517.5 L702.1,516.1 L704.0,517.3 L705.9,516.4 L707.8,515.6 L709.7,511.5 L711.6,515.7 L713.5,515.6 L715.4,513.1 L717.3,512.5 L719.2,518.0 L721.0,514.4 L722.9,511.3 L724.8,514.2 L726.7,508.9 L728.6,511.7 L730.5,513.0 L732.4,515.1 L734.2,517.6 L736.1,518.4 L738.0,518.5 L740.0,518.8 L742.0,520.2 L744.0,517.5 L746.0,517.9 L748.0,515.9 L750.0,514.5 L752.0,516.3 L754.0,514.5 L756.0,516.5 L758.0,515.7 L760.0,515.7 L761.9,516.1 L763.8,518.5 L765.6,520.2 L767.5,521.1 L769.4,522.3 L771.3,523.0 L773.2,527.0 L775.1,526.0 L777.0,526.1 L778.8,528.2 L780.7,526.0 L782.6,525.1 L784.7,526.1 L786.8,530.9 L788.9,527.8 L791.0,529.7 L793.1,525.6 L795.2,525.6 L797.4,527.7 L799.5,522.0 L801.6,522.2 L803.8,522.0 L805.9,519.8 L808.0,520.7 L809.9,520.4 L811.8,522.1 L813.6,522.5 L815.5,528.4 L817.4,526.0 L819.3,525.9 L821.2,528.1 L823.1,524.5 L825.0,526.4 L826.8,525.2 L828.7,526.4 L830.6,526.5 L832.7,529.4 L834.9,529.0 L837.0,528.0 L839.1,528.2 L841.0,530.7 L842.8,531.9 L844.7,535.9 L846.8,537.0 L849.0,536.6 L851.1,537.5 L853.2,540.9 L855.3,538.4 L857.5,542.4 L859.6,541.7 L861.7,542.6 L863.8,539.3 L866.0,535.5 L868.1,535.8 L870.2,528.2 L872.3,528.3 L874.4,533.1 L876.5,533.4 L878.6,535.0 L880.5,532.1 L882.4,534.5 L884.3,544.6 L886.4,536.1 L888.5,534.0 L890.7,532.3 L892.8,533.5 L894.9,529.8 L897.0,533.6 L899.1,532.0 L901.2,532.2 L903.1,530.0 L905.0,528.9 L906.9,526.3 L908.7,523.9 L910.6,529.2 L912.5,523.9 L914.6,525.5 L916.8,530.4 L918.9,528.5 L921.0,529.7 L923.1,527.0 L925.2,528.2 L927.4,524.5 L929.5,521.8 L931.4,525.1 L933.3,523.7 L935.1,523.3 L937.0,526.0 L938.9,528.3 L940.8,525.9 L942.7,529.8 L944.6,530.9 L946.6,535.5 L948.5,531.8 L950.6,535.4 L952.8,534.2 L954.9,538.6 L957.0,540.5 L959.1,538.6 L961.2,536.5 L963.3,534.5 L965.4,530.8 L967.3,529.5 L969.1,529.0 L971.0,528.4 L972.9,530.8 L974.8,535.4 L976.7,539.1 L978.8,536.2 L980.9,542.5 L983.0,546.7 L985.1,547.7 L987.2,549.0 L989.4,544.0 L991.5,538.7 L993.6,536.0 L995.4,537.3 L997.2,533.6 L998.9,532.0 L1000.7,533.5 L1002.7,534.3 L1004.6,538.3 L1006.6,539.7 L1008.5,540.9 L1010.5,537.7 L1012.4,536.0 L1014.3,536.2 L1016.1,531.3 L1018.0,535.9 L1019.9,535.1 L1021.8,532.2 L1023.7,531.9 L1025.6,534.2 L1027.4,530.4 L1029.3,533.6 L1031.2,535.7 L1033.1,533.2 L1035.0,534.6 L1036.9,533.7 L1038.8,534.3 L1040.6,536.0 L1042.5,537.0 L1044.4,539.3 L1046.5,537.0 L1048.7,541.3 L1050.8,546.8 L1052.9,547.2 L1055.0,552.0 L1057.1,553.6 L1059.1,554.6 L1061.1,553.6 L1063.0,555.7 L1065.0,553.6 L1067.0,550.2 L1068.9,552.1 L1070.8,555.1 L1072.7,557.0 L1074.5,549.5 L1076.4,553.8 L1078.3,549.4 L1080.2,552.3 L1082.0,552.2 L1083.9,554.1 L1085.8,554.9 L1087.6,552.9 L1089.5,549.9 L1091.6,551.0 L1093.7,552.5 L1095.8,548.2 L1097.9,546.6 L1100.0,546.6" stroke="#7a2a38" stroke-width="2.3" stroke-dasharray="16.8 4.6 2.6 4.5"/>
<path d="M109.9,682.80 L255.9,682.80 L272.9,682.73 L279.9,682.48 L283.9,682.04 L286.9,681.37 L288.9,680.64 L289.9,680.16 L291.9,678.88 L292.9,678.06 L294.9,675.97 L296.9,673.22 L297.9,671.58 L299.9,667.82 L301.9,663.50 L303.9,658.78 L313.9,633.93 L316.9,626.95 L319.9,620.32 L322.9,614.04 L326.9,606.16 L330.9,598.82 L334.9,591.96 L338.9,585.55 L342.9,579.55 L346.9,573.92 L350.9,568.64 L354.9,563.67 L359.9,557.88 L363.9,553.55 L368.9,548.49 L373.9,543.79 L379.9,538.58 L385.9,533.81 L391.9,529.42 L397.9,525.39 L404.9,521.10 L410.9,517.73 L417.9,514.14 L424.9,510.88 L431.9,507.90 L439.9,504.83 L447.9,502.07 L455.9,499.58 L464.9,497.08 L473.9,494.85 L482.9,492.86 L489.9,491.47 L497.9,490.02 L505.9,488.71 L514.9,487.39 L523.9,486.21 L532.9,485.16 L551.9,483.28 L572.9,481.66 L595.9,480.30 L620.9,479.19 L648.9,478.29 L677.9,477.62 L710.9,477.09 L747.9,476.70 L791.9,476.40 L905.9,476.07 L1101.9,475.96" stroke="#ee11ee" stroke-width="2.3"/>
<path d="M235.3,682.4 L237.2,669.8 L239.2,660.7 L241.2,653.8 L243.1,641.6 L245.1,630.7 L247.0,623.8 L248.8,616.0 L250.5,613.5 L252.2,602.5 L254.0,599.2 L255.9,592.1 L257.8,594.6 L259.7,590.9 L261.6,588.9 L263.5,588.2 L265.3,585.0 L267.1,581.1 L268.8,573.5 L270.6,570.5 L272.4,567.8 L274.1,564.6 L275.9,561.1 L277.6,562.4 L279.5,560.3 L281.4,561.3 L283.2,558.4 L285.1,557.0 L287.0,552.1 L288.8,553.9 L290.5,554.8 L292.2,560.6 L294.0,563.7 L295.8,569.0 L297.5,565.7 L299.2,574.4 L301.0,570.6 L302.8,571.2 L304.5,566.4 L306.2,555.1 L308.0,557.4 L309.8,559.5 L311.5,548.4 L313.2,552.5 L315.0,546.4 L316.9,546.3 L318.8,546.8 L320.6,543.2 L322.5,547.1 L324.4,544.8 L326.2,542.4 L328.1,547.5 L330.0,552.0 L331.9,546.2 L333.8,546.2 L335.6,546.1 L337.5,543.9 L339.4,546.9 L341.2,549.8 L343.1,548.2 L345.0,548.3 L347.0,548.0 L349.0,548.0 L351.0,547.3 L353.0,548.5 L354.8,548.3 L356.5,546.4 L358.2,543.4 L360.0,543.2 L362.1,542.8 L364.2,541.4 L366.4,536.7 L368.5,534.1 L370.6,535.9 L372.8,534.1 L374.9,529.8 L377.0,527.9 L379.1,527.5 L381.2,534.3 L383.3,530.0 L385.4,528.4 L387.5,532.0 L389.6,532.7 L391.8,532.0 L393.9,527.6 L395.8,533.2 L397.6,534.3 L399.5,538.3 L401.4,539.5 L403.3,543.6 L405.2,543.5 L407.3,548.0 L409.4,549.2 L411.6,548.7 L413.7,549.6 L415.8,548.4 L417.9,547.2 L420.0,543.8 L422.1,539.8 L424.0,531.7 L425.9,537.0 L427.8,534.7 L429.9,535.7 L432.1,535.2 L434.2,537.1 L436.3,537.3 L438.4,543.3 L440.5,541.5 L442.6,540.6 L444.7,541.6 L446.8,540.6 L448.9,539.9 L451.1,536.6 L453.2,537.9 L455.3,537.6 L457.4,536.4 L459.6,535.0 L461.7,534.2 L463.6,532.2 L465.5,529.4 L467.4,529.4 L469.2,531.4 L471.1,532.2 L473.0,535.0 L474.9,536.5 L476.8,531.4 L478.6,531.5 L480.5,534.0 L482.4,534.7 L484.3,531.5 L486.2,530.8 L488.1,530.8 L490.0,530.8 L491.8,530.8 L493.7,529.4 L495.6,532.9 L497.5,532.0 L499.4,529.0 L501.2,527.1 L503.1,526.8 L505.0,529.4 L506.9,528.3 L508.8,529.9 L510.7,524.6 L512.5,529.4 L514.4,524.7 L516.3,527.9 L518.2,522.6 L520.1,524.6 L521.9,523.4 L523.8,521.4 L525.7,521.2 L527.6,522.8 L529.5,527.9 L531.3,525.7 L533.2,526.2 L535.1,529.7 L537.0,529.4 L538.9,533.3 L540.8,530.5 L542.6,529.1 L544.5,531.0 L546.4,537.0 L548.3,531.7 L550.3,534.8 L552.2,534.1 L554.2,531.8 L556.1,535.7 L558.1,536.2 L560.0,535.7 L562.0,531.5 L564.0,533.1 L566.0,531.9 L568.0,539.4 L570.0,540.6 L572.0,542.4 L574.0,544.1 L576.1,541.1 L578.3,543.3 L580.5,547.7 L582.6,552.9 L584.5,546.3 L586.4,548.2 L588.2,545.5 L590.1,546.0 L592.0,547.8 L593.9,543.2 L595.8,541.1 L597.7,543.5 L599.5,540.1 L601.4,538.2 L603.3,535.8 L605.2,536.9 L607.1,537.6 L609.0,541.4 L610.9,542.3 L612.7,545.8 L614.6,548.3 L616.5,548.1 L618.5,545.1 L620.5,545.7 L622.5,546.1 L624.6,554.7 L626.6,549.7 L628.6,552.3 L630.6,554.3 L632.6,547.5 L634.6,548.7 L636.6,548.8 L638.7,548.5 L640.7,547.8 L642.7,551.5 L644.7,553.9 L646.6,553.4 L648.5,553.4 L650.4,553.4 L652.2,553.4 L654.1,553.7 L656.0,554.1 L657.9,552.5 L659.8,557.3 L661.6,557.8 L663.5,559.3 L665.4,559.4 L667.3,561.0 L669.2,560.2 L671.1,562.9 L673.0,562.0 L674.8,560.7 L676.7,558.5 L678.6,557.4 L680.6,561.7 L682.7,554.1 L684.7,560.1 L686.7,558.0 L688.7,557.1 L690.8,555.7 L692.8,557.2 L694.8,556.7 L696.8,556.1 L698.8,559.7 L700.9,557.1 L702.9,562.9 L704.9,564.2 L706.9,555.7 L708.8,558.3 L710.7,560.3 L712.5,561.3 L714.4,562.6 L716.3,562.2 L718.2,563.4 L720.1,563.0 L722.0,565.0 L723.9,560.5 L725.7,562.0 L727.6,557.0 L729.5,557.8 L731.5,557.0 L733.5,562.8 L735.5,563.1 L737.6,561.3 L739.6,558.2 L741.6,561.3 L743.6,562.1 L745.6,561.5 L747.7,561.9 L749.8,561.2 L751.8,553.5 L753.9,563.3 L755.9,560.1 L758.0,558.0 L760.0,560.7 L762.1,558.2 L764.2,557.0 L766.4,556.9 L768.5,559.6 L770.6,564.7 L772.8,567.8 L774.9,563.9 L777.0,563.4 L778.9,566.6 L780.7,562.4 L782.6,566.1 L784.5,562.4 L786.3,560.2 L788.2,559.2 L790.3,561.7 L792.5,560.9 L794.6,560.7 L796.7,563.2 L798.8,563.8 L801.0,566.4 L803.1,568.2 L805.2,568.4 L807.1,568.5 L809.0,567.4 L810.9,568.9 L812.7,564.4 L814.6,563.0 L816.5,559.9 L818.4,563.2 L820.2,564.2 L822.1,563.5 L824.2,565.6 L826.4,567.5 L828.5,570.7 L830.6,571.3 L832.5,566.3 L834.4,567.7 L836.2,565.2 L838.1,572.4 L840.0,573.1 L841.9,574.0 L843.8,572.3 L845.7,574.9 L847.5,571.6 L849.4,571.8 L851.3,572.2 L853.2,575.1 L855.3,573.7 L857.5,575.2 L859.6,575.5 L861.7,569.0 L863.8,573.7 L866.0,574.0 L868.1,573.2 L870.2,574.7 L872.3,575.3 L874.4,575.9 L876.5,578.0 L878.6,579.8 L880.5,580.7 L882.4,581.3 L884.2,583.6 L886.1,580.7 L888.0,585.1 L889.9,579.6 L892.0,584.7 L894.1,586.1 L896.3,586.5 L898.4,585.4 L900.5,587.5 L902.6,581.1 L904.8,580.4 L906.9,578.1 L908.8,575.2 L910.7,572.2 L912.5,574.0 L914.4,569.2 L916.3,566.7 L918.2,568.0 L920.1,568.5 L922.0,569.1 L923.9,569.7 L925.7,571.7 L927.6,571.3 L929.5,571.7 L931.6,571.5 L933.7,575.3 L935.8,571.0 L937.9,574.2 L940.0,570.5 L942.1,573.0 L944.2,570.0 L946.4,575.7 L948.5,567.2 L950.6,569.0 L952.8,574.1 L954.9,577.2 L957.0,575.1 L959.1,579.2 L961.2,577.9 L963.3,571.7 L965.4,573.8 L967.5,574.8 L969.6,575.9 L971.8,578.7 L973.9,580.4 L975.8,581.5 L977.6,592.6 L979.5,587.4 L981.4,586.4 L983.2,592.6 L985.1,592.6 L987.0,594.6 L988.9,591.5 L990.8,591.4 L992.6,588.4 L994.5,586.2 L996.4,585.3 L998.3,580.3 L1000.1,580.2 L1002.0,570.0 L1003.9,572.7 L1005.8,574.4 L1007.7,578.9 L1009.6,580.9 L1011.5,585.1 L1013.4,584.0 L1015.3,585.9 L1017.1,583.4 L1019.0,584.5 L1020.9,584.4 L1022.7,579.5 L1024.6,583.3 L1026.7,582.8 L1028.8,578.6 L1031.0,580.0 L1033.1,582.1 L1035.2,578.5 L1037.3,581.6 L1039.5,581.8 L1041.6,582.6 L1043.5,582.9 L1045.4,584.7 L1047.2,588.4 L1049.1,587.5 L1051.0,583.6 L1052.9,588.8 L1055.0,587.9 L1057.1,586.6 L1059.2,590.2 L1061.3,588.5 L1063.4,586.0 L1065.5,588.9 L1067.7,581.2 L1069.8,585.1 L1071.9,585.6 L1074.0,590.1 L1076.2,592.1 L1078.3,593.4 L1080.4,592.8 L1082.5,600.6 L1084.6,601.9 L1086.7,601.3 L1088.5,602.9 L1090.2,603.6 L1092.0,598.0 L1093.8,599.1 L1095.9,592.9 L1097.9,589.4 L1100.0,586.0" stroke="#ee11ee" stroke-width="2.3" stroke-dasharray="16.8 4.6 2.6 4.5"/>
<path d="M109.9,659.00 L272.9,658.95 L279.9,658.80 L284.9,658.47 L288.9,657.88 L291.9,657.06 L293.9,656.23 L294.9,655.70 L296.9,654.38 L297.9,653.58 L299.9,651.64 L300.9,650.51 L302.9,647.92 L304.9,644.95 L306.9,641.69 L317.9,622.20 L321.9,615.50 L324.9,610.74 L328.9,604.74 L332.9,599.13 L336.9,593.86 L340.9,588.93 L344.9,584.29 L348.9,579.93 L352.9,575.82 L357.9,571.02 L361.9,567.42 L366.9,563.21 L370.9,560.04 L375.9,556.33 L381.9,552.20 L387.9,548.39 L393.9,544.88 L399.9,541.65 L405.9,538.66 L412.9,535.45 L419.9,532.52 L426.9,529.85 L433.9,527.41 L441.9,524.86 L449.9,522.57 L457.9,520.49 L465.9,518.60 L474.9,516.69 L483.9,514.98 L492.9,513.45 L508.9,511.11 L525.9,509.06 L543.9,507.30 L563.9,505.73 L584.9,504.43 L607.9,503.32 L633.9,502.38 L661.9,501.63 L690.9,501.07 L723.9,500.61 L761.9,500.25 L805.9,499.99 L917.9,499.68 L1101.9,499.57" stroke="#5a0a55" stroke-width="2.3"/>
<path d="M242.4,653.4 L244.2,649.1 L245.9,648.1 L247.7,648.7 L249.4,640.7 L251.7,628.5 L254.0,620.3 L255.8,615.5 L257.5,612.3 L259.2,613.0 L261.0,608.4 L262.9,600.3 L264.8,604.1 L266.8,601.2 L268.7,604.0 L270.6,596.7 L272.4,595.7 L274.1,595.2 L275.9,591.4 L277.6,584.4 L279.4,588.4 L281.1,590.2 L282.9,594.5 L284.7,597.0 L286.6,591.1 L288.4,592.8 L290.3,594.6 L292.1,597.0 L294.0,598.3 L295.8,601.7 L297.5,603.4 L299.2,599.4 L301.0,599.8 L302.8,597.6 L304.5,602.5 L306.2,600.7 L308.0,592.4 L310.0,592.1 L312.0,593.9 L314.0,593.5 L316.0,593.1 L318.0,590.8 L320.0,589.9 L322.0,590.0 L324.0,587.9 L326.0,594.3 L328.0,592.1 L330.0,590.9 L332.0,591.0 L333.9,587.0 L335.9,587.7 L337.9,590.0 L339.8,584.4 L341.8,589.7 L343.7,592.5 L345.6,587.0 L347.6,582.7 L349.5,580.5 L352.0,591.7 L354.2,592.6 L356.4,595.9 L358.6,600.5 L360.7,593.8 L362.9,589.9 L365.0,577.7 L367.5,582.4 L370.0,578.6 L371.8,575.7 L373.5,570.1 L375.2,575.3 L377.0,569.9 L379.1,577.5 L381.2,578.3 L383.3,574.8 L385.4,578.3 L387.5,586.7 L389.6,586.0 L391.8,585.1 L393.9,587.2 L396.0,587.3 L398.1,587.3 L400.3,587.2 L402.4,586.9 L404.5,590.7 L406.6,594.5 L408.7,593.6 L410.8,599.3 L412.7,599.5 L414.6,603.6 L416.5,606.8 L418.6,604.8 L420.8,601.3 L422.9,598.5 L425.0,592.2 L427.1,592.7 L429.2,587.4 L431.3,584.6 L433.4,585.6 L435.5,584.2 L437.6,585.5 L439.8,584.2 L441.9,586.9 L444.0,579.9 L446.1,582.3 L448.3,580.0 L450.4,579.3 L452.3,578.9 L454.2,578.9 L456.0,578.9 L457.9,578.9 L459.8,578.2 L461.7,581.1 L463.6,583.0 L465.5,576.7 L467.4,579.9 L469.2,583.4 L471.1,587.6 L473.0,585.9 L475.1,587.8 L477.2,592.0 L479.4,593.9 L481.5,598.2 L483.6,593.2 L485.8,586.0 L487.9,585.4 L490.0,582.3 L491.9,580.2 L493.7,582.9 L495.6,581.8 L497.5,581.6 L499.3,586.7 L501.2,585.9 L503.1,581.5 L505.0,579.9 L506.9,580.9 L508.7,584.4 L510.6,577.9 L512.5,580.0 L514.4,578.7 L516.3,572.9 L518.1,581.8 L520.0,579.6 L521.9,578.4 L523.8,579.4 L525.7,588.2 L527.6,580.4 L529.5,580.8 L531.3,585.0 L533.2,583.9 L535.1,578.1 L537.0,581.5 L538.9,580.3 L540.8,580.3 L542.6,581.5 L544.5,579.1 L546.4,578.4 L548.4,578.9 L550.5,578.9 L552.5,578.9 L554.6,578.9 L556.6,578.9 L558.7,578.9 L560.8,577.4 L562.8,579.1 L564.9,579.1 L567.0,584.3 L569.2,585.1 L571.3,585.6 L573.4,587.1 L575.5,591.1 L577.7,591.8 L579.8,590.6 L581.9,599.0 L584.0,599.1 L586.1,602.6 L588.2,602.9 L590.1,604.2 L592.0,605.9 L593.9,599.8 L595.7,593.9 L597.6,593.5 L599.5,591.2 L601.4,592.8 L603.3,592.1 L605.1,594.9 L607.0,592.7 L608.9,595.3 L610.8,593.9 L612.9,596.0 L615.0,597.1 L617.2,591.6 L619.3,593.7 L621.4,592.6 L623.5,595.4 L625.7,599.6 L627.8,605.3 L629.7,601.8 L631.5,605.5 L633.4,599.5 L635.3,604.1 L637.1,605.3 L639.0,606.0 L641.1,601.9 L643.2,600.6 L645.4,605.3 L647.5,599.1 L649.6,603.7 L651.8,599.8 L653.9,600.0 L656.0,607.2 L657.9,607.0 L659.8,605.9 L661.6,605.2 L663.5,610.9 L665.4,609.5 L667.3,613.1 L669.2,617.4 L671.1,610.1 L673.0,615.5 L674.8,613.3 L676.7,610.7 L678.6,613.9 L680.6,608.2 L682.7,613.5 L684.7,614.3 L686.7,609.5 L688.7,609.7 L690.8,611.7 L692.8,615.7 L694.8,616.0 L696.8,613.0 L698.8,611.4 L700.9,603.3 L702.9,609.5 L704.9,604.6 L706.9,607.1 L708.7,608.8 L710.5,608.6 L712.2,602.1 L714.0,601.5 L716.0,600.2 L717.9,605.3 L719.9,602.0 L721.8,609.7 L723.8,605.3 L725.7,609.4 L727.6,606.9 L729.5,606.1 L731.3,608.1 L733.2,605.1 L735.1,604.4 L737.0,604.9 L738.9,611.1 L740.8,605.9 L742.6,613.1 L744.5,618.4 L746.4,609.9 L748.3,613.7 L750.2,614.8 L752.0,619.7 L753.9,618.2 L755.8,619.8 L757.7,618.9 L759.9,618.4 L762.0,618.4 L764.2,618.4 L766.3,616.1 L768.5,614.5 L770.6,620.3 L772.8,616.7 L774.9,614.4 L777.0,620.6 L779.1,620.1 L781.2,622.4 L783.3,621.2 L785.4,626.3 L787.5,623.5 L789.6,615.3 L791.8,617.8 L793.9,612.5 L796.0,618.2 L798.1,618.8 L800.3,617.4 L802.4,618.2 L804.5,622.8 L806.6,625.6 L808.7,625.7 L810.8,629.6 L812.9,629.9 L815.0,627.5 L817.2,626.8 L819.3,623.9 L821.2,620.0 L823.1,616.8 L825.0,622.0 L826.8,616.6 L828.7,612.5 L830.6,611.3 L832.5,607.4 L834.4,610.3 L836.2,607.9 L838.1,614.2 L840.0,612.8 L841.9,619.2 L843.8,616.7 L845.7,614.2 L847.5,616.8 L849.4,618.6 L851.3,617.8 L853.2,617.9 L855.1,619.2 L857.0,625.2 L858.9,621.2 L860.7,615.6 L862.6,623.3 L864.5,627.3 L866.4,619.8 L868.3,631.6 L870.1,625.6 L872.0,629.9 L873.9,629.1 L875.8,631.3 L877.7,623.8 L879.6,622.5 L881.5,616.6 L883.3,623.0 L885.2,617.3 L887.1,617.8 L889.0,617.7 L890.9,616.9 L892.8,619.2 L894.6,621.3 L896.5,620.8 L898.4,622.7 L900.3,623.1 L902.2,618.2 L904.0,616.2 L905.9,615.1 L907.8,617.0 L909.7,620.0 L911.6,620.1 L913.5,615.4 L915.4,614.5 L917.2,610.6 L919.1,610.7 L921.0,608.1 L922.9,613.5 L924.8,612.3 L926.6,614.6 L928.5,624.9 L930.4,619.4 L932.3,626.3 L934.2,621.7 L936.1,624.4 L938.0,625.0 L939.8,617.6 L941.7,610.1 L943.6,615.3 L945.7,616.2 L947.9,613.0 L950.0,617.2 L952.1,616.6 L954.1,611.3 L956.0,619.1 L958.0,619.6 L960.0,620.4 L961.8,616.4 L963.6,617.6 L965.4,617.3 L967.5,619.4 L969.6,615.1 L971.8,620.6 L973.9,615.8 L976.0,616.0 L978.1,629.2 L980.2,629.9 L982.3,632.7 L984.4,636.2 L986.5,633.1 L988.7,638.7 L990.8,633.2 L992.9,633.9 L995.0,639.5 L997.2,638.5 L999.3,634.0 L1001.4,637.4 L1003.5,641.3 L1005.6,641.4 L1007.7,645.5 L1009.8,644.2 L1012.0,638.0 L1014.1,637.4 L1016.2,626.8 L1018.3,636.9 L1020.4,630.2 L1022.5,634.9 L1024.6,635.1 L1026.5,638.3 L1028.4,638.7 L1030.3,637.4 L1032.2,638.0 L1034.1,637.3 L1036.0,636.4 L1038.1,628.6 L1040.2,625.0 L1042.3,620.5 L1044.4,621.7 L1046.3,618.9 L1048.1,616.0 L1050.0,612.2 L1052.1,614.2 L1054.2,614.6 L1056.4,618.9 L1058.5,618.8 L1060.6,629.6 L1062.8,629.0 L1064.9,625.6 L1067.0,629.1 L1069.1,631.5 L1071.2,636.4 L1073.3,632.8 L1075.4,635.0 L1077.5,637.9 L1079.7,635.2 L1081.8,640.1 L1083.9,642.6 L1086.0,642.2 L1088.2,651.0 L1090.3,650.0 L1092.4,651.6 L1094.3,646.6 L1096.2,650.2 L1098.1,648.2 L1100.0,646.4" stroke="#5a0a55" stroke-width="2.3" stroke-dasharray="16.8 4.6 2.6 4.5"/>
<path d="M109.9,719.00 L275.9,718.97 L280.9,718.87 L283.9,718.67 L286.9,718.19 L288.9,717.54 L289.9,717.05 L290.9,716.41 L291.9,715.58 L292.9,714.53 L293.9,713.25 L294.9,711.70 L295.9,709.89 L296.9,707.84 L298.9,703.19 L303.9,690.37 L306.9,682.97 L308.9,678.30 L311.9,671.72 L314.9,665.60 L318.9,658.07 L321.9,652.84 L325.9,646.36 L329.9,640.36 L333.9,634.80 L337.9,629.63 L341.9,624.81 L345.9,620.31 L350.9,615.09 L355.9,610.28 L360.9,605.84 L365.9,601.72 L371.9,597.18 L377.9,593.02 L383.9,589.21 L389.9,585.72 L396.9,581.99 L403.9,578.61 L410.9,575.54 L417.9,572.75 L425.9,569.85 L433.9,567.24 L441.9,564.89 L449.9,562.77 L458.9,560.62 L467.9,558.70 L477.9,556.80 L485.9,555.43 L493.9,554.20 L510.9,551.93 L529.9,549.88 L549.9,548.15 L571.9,546.65 L595.9,545.39 L621.9,544.35 L650.9,543.49 L681.9,542.82 L715.9,542.30 L754.9,541.89 L800.9,541.58 L915.9,541.21 L1101.9,541.06" stroke="#12b030" stroke-width="2.3"/>
<path d="M215.4,711.1 L217.4,704.5 L219.4,707.8 L221.3,708.4 L223.3,704.6 L225.3,707.2 L227.5,715.3 L229.7,721.8 L231.9,730.6 L233.5,724.4 L235.1,715.7 L237.6,705.6 L240.0,697.6 L242.5,685.9 L245.0,684.1 L247.2,679.2 L249.4,672.0 L251.6,668.1 L253.8,678.0 L256.0,666.4 L258.2,661.9 L260.5,661.4 L262.7,654.5 L265.0,650.2 L266.9,649.1 L268.7,644.2 L270.6,646.0 L272.5,640.3 L274.4,646.4 L276.2,644.1 L278.1,636.0 L280.0,644.4 L282.2,635.1 L284.3,639.6 L286.5,633.6 L288.7,635.5 L290.8,631.8 L293.0,636.1 L295.1,632.5 L297.2,635.1 L299.3,633.5 L301.4,631.7 L303.5,628.9 L305.4,630.6 L307.3,632.6 L309.2,632.6 L311.1,633.3 L313.0,631.8 L314.8,635.2 L316.5,637.2 L318.2,637.2 L320.0,639.7 L322.0,636.5 L324.0,635.5 L326.0,634.7 L328.0,631.7 L330.0,630.9 L331.9,630.0 L333.8,632.0 L335.6,623.7 L337.5,622.5 L339.4,629.9 L341.2,626.2 L343.1,625.5 L345.0,631.8 L346.9,629.2 L348.8,625.0 L350.6,625.3 L352.5,622.4 L354.4,625.3 L356.2,621.1 L358.1,618.7 L360.0,618.6 L361.9,625.6 L363.8,623.0 L365.6,616.9 L367.5,619.8 L369.4,617.2 L371.3,619.0 L373.2,615.2 L375.1,617.6 L377.0,615.7 L378.8,617.1 L380.7,618.9 L382.6,618.0 L384.7,617.6 L386.9,614.1 L389.0,619.8 L391.1,614.3 L393.0,611.5 L394.9,611.5 L396.8,611.2 L398.6,618.8 L400.5,625.0 L402.4,617.2 L404.5,621.6 L406.6,616.8 L408.7,625.5 L410.8,623.3 L412.9,629.1 L415.1,637.1 L417.2,644.6 L419.3,647.5 L421.4,640.4 L423.6,637.8 L425.7,633.9 L427.8,631.5 L429.7,639.9 L431.6,632.9 L433.5,633.8 L435.3,632.6 L437.2,635.0 L439.1,625.7 L441.0,632.3 L442.9,629.7 L444.8,629.0 L446.6,626.4 L448.5,635.1 L450.4,633.7 L452.5,631.6 L454.6,629.2 L456.8,628.7 L458.9,631.4 L461.0,623.9 L463.1,625.4 L465.2,624.8 L467.3,619.9 L469.2,621.9 L471.1,619.4 L473.0,625.7 L474.8,623.1 L476.7,623.0 L478.6,626.2 L480.5,628.3 L482.4,622.3 L484.3,620.6 L486.2,620.6 L488.1,621.1 L490.0,621.1 L491.9,625.3 L493.7,622.6 L495.6,632.3 L497.5,630.5 L499.3,628.5 L501.2,636.5 L503.1,632.7 L505.0,634.5 L506.9,626.4 L508.7,632.3 L510.6,627.6 L512.5,620.2 L514.4,628.3 L516.3,622.7 L518.1,621.1 L520.0,620.8 L521.9,617.9 L523.8,624.2 L525.7,620.2 L527.6,619.1 L529.5,621.9 L531.3,618.5 L533.2,617.7 L535.1,618.6 L537.0,618.4 L538.9,618.4 L540.8,618.4 L542.6,618.4 L544.5,619.7 L546.4,619.5 L548.3,621.4 L550.3,627.8 L552.2,620.7 L554.2,626.0 L556.1,623.8 L558.1,626.9 L560.0,630.6 L562.1,632.3 L564.2,627.3 L566.4,634.1 L568.5,637.5 L570.6,639.1 L572.8,647.7 L574.9,640.2 L577.0,639.2 L579.1,639.4 L581.2,632.7 L583.4,641.2 L585.5,638.2 L587.6,633.2 L589.8,633.2 L591.9,628.6 L594.0,628.8 L595.9,622.5 L597.7,621.3 L599.6,620.1 L601.5,622.7 L603.3,618.5 L605.2,621.3 L607.1,626.2 L609.0,625.7 L610.9,625.2 L612.7,634.6 L614.6,633.6 L616.5,637.1 L618.6,642.0 L620.8,641.4 L622.9,645.5 L625.0,657.8 L627.1,650.1 L629.2,646.3 L631.3,647.7 L633.4,646.7 L635.3,643.4 L637.2,646.4 L639.0,644.7 L640.9,644.3 L642.8,642.8 L644.7,636.4 L646.6,637.2 L648.5,643.5 L650.4,641.7 L652.2,644.1 L654.1,643.2 L656.0,638.7 L657.9,645.0 L659.8,642.2 L661.6,645.6 L663.5,648.3 L665.4,650.0 L667.3,646.2 L669.2,649.5 L671.1,651.2 L673.0,652.8 L674.8,648.3 L676.7,654.4 L678.6,659.7 L680.5,660.2 L682.4,658.6 L684.3,663.2 L686.2,665.6 L688.1,663.5 L690.0,664.9 L691.9,663.2 L693.7,663.1 L695.6,665.5 L697.5,662.9 L699.3,657.4 L701.2,654.1 L703.1,651.7 L705.0,656.7 L706.9,654.1 L708.7,655.9 L710.6,654.6 L712.5,653.7 L714.4,651.6 L716.3,646.0 L718.1,647.5 L720.0,647.5 L721.9,649.5 L723.8,648.2 L725.7,648.5 L727.6,652.1 L729.5,649.4 L731.3,652.9 L733.2,653.7 L735.1,653.0 L737.0,651.4 L738.9,655.7 L740.8,655.7 L742.6,664.1 L744.5,659.2 L746.4,661.8 L748.3,666.7 L750.2,665.5 L752.0,669.1 L753.9,672.3 L755.8,667.7 L757.7,673.0 L759.6,671.4 L761.6,675.5 L763.5,667.8 L765.5,667.2 L767.4,669.5 L769.4,661.4 L771.3,660.8 L773.4,658.9 L775.5,655.1 L777.7,655.7 L779.8,651.6 L781.9,657.5 L784.0,662.3 L786.1,666.7 L788.2,675.5 L790.3,672.8 L792.5,666.8 L794.6,670.6 L796.7,669.1 L798.6,671.6 L800.5,674.9 L802.4,680.1 L804.5,674.8 L806.6,669.9 L808.7,670.7 L810.8,658.2 L812.9,658.9 L815.0,657.4 L817.2,654.9 L819.3,654.2 L821.4,653.0 L823.5,657.4 L825.7,663.3 L827.8,667.4 L829.9,666.9 L832.0,672.3 L834.2,678.1 L836.3,683.7 L838.4,677.6 L840.5,677.5 L842.6,676.2 L844.7,668.8 L846.8,667.2 L849.0,660.2 L851.1,657.2 L853.2,659.0 L855.1,659.6 L857.0,662.9 L858.9,665.5 L860.7,663.3 L862.6,666.0 L864.5,666.3 L866.6,666.0 L868.8,668.7 L870.9,669.8 L873.0,669.0 L874.9,667.6 L876.8,666.8 L878.6,669.5 L880.5,663.4 L882.4,670.2 L884.3,665.4 L886.4,671.5 L888.5,664.7 L890.7,665.7 L892.8,670.8 L894.9,667.3 L897.0,664.7 L899.1,666.9 L901.2,656.2 L903.1,658.3 L905.0,657.3 L906.9,662.3 L908.7,661.6 L910.6,660.4 L912.5,654.3 L914.4,658.3 L916.3,657.0 L918.1,661.1 L920.0,661.1 L921.9,656.0 L923.8,660.5 L925.7,659.9 L927.6,662.1 L929.5,660.9 L931.3,660.6 L933.2,664.0 L935.1,660.3 L937.5,664.7 L940.0,665.5 L941.9,662.6 L943.8,666.6 L945.6,664.9 L947.5,662.4 L949.4,676.0 L951.3,676.5 L953.2,669.8 L955.1,672.3 L957.0,675.8 L958.8,676.6 L960.7,675.7 L962.6,679.1 L964.7,674.9 L966.8,671.6 L968.9,672.3 L971.0,668.8 L972.9,668.5 L974.8,670.4 L976.6,667.1 L978.5,676.9 L980.4,671.4 L982.3,677.1 L984.4,673.8 L986.5,671.0 L988.7,669.2 L990.8,670.1 L992.7,666.0 L994.5,672.5 L996.4,675.3 L998.2,679.1 L1000.0,688.7 L1001.7,697.4 L1003.5,696.2 L1005.2,692.4 L1007.0,688.1 L1008.8,683.2 L1010.5,681.8 L1012.6,676.4 L1014.8,675.1 L1016.9,667.4 L1019.0,664.3 L1021.1,667.5 L1023.2,658.5 L1025.4,665.4 L1027.5,657.6 L1029.4,659.9 L1031.2,658.7 L1033.1,655.1 L1035.2,655.2 L1037.3,667.2 L1039.5,666.0 L1041.6,671.4 L1043.5,675.7 L1045.4,673.3 L1047.2,678.7 L1049.1,679.3 L1051.0,674.7 L1052.9,674.7 L1054.8,674.7 L1056.7,674.7 L1058.6,674.7 L1060.4,674.7 L1062.3,675.0 L1064.2,675.2 L1066.1,671.2 L1067.9,676.6 L1069.8,678.6 L1071.7,673.1 L1073.5,677.0 L1075.4,679.8 L1077.3,677.1 L1079.2,672.9 L1081.1,673.7 L1082.9,677.5 L1084.8,680.9 L1086.7,673.0 L1088.5,678.2 L1090.2,681.5 L1092.0,686.5 L1093.8,694.9 L1095.9,697.7 L1097.9,697.3 L1100.0,704.2" stroke="#12b030" stroke-width="2.3" stroke-dasharray="16.8 4.6 2.6 4.5"/>
<path d="M109.9,705.80 L277.9,705.79 L282.9,705.73 L285.9,705.60 L287.9,705.39 L289.9,704.97 L291.9,704.17 L292.9,703.57 L293.9,702.79 L294.9,701.82 L295.9,700.68 L296.9,699.38 L298.9,696.43 L306.9,683.76 L309.9,679.38 L312.9,675.25 L316.9,670.09 L320.9,665.29 L324.9,660.81 L329.9,655.61 L333.9,651.73 L338.9,647.21 L342.9,643.82 L347.9,639.86 L352.9,636.17 L357.9,632.73 L362.9,629.51 L368.9,625.93 L374.9,622.63 L380.9,619.57 L386.9,616.75 L393.9,613.71 L400.9,610.93 L407.9,608.38 L414.9,606.05 L421.9,603.90 L428.9,601.93 L436.9,599.87 L444.9,598.00 L453.9,596.10 L462.9,594.39 L471.9,592.84 L481.9,591.31 L491.9,589.94 L507.9,588.04 L525.9,586.28 L544.9,584.77 L564.9,583.48 L586.9,582.35 L610.9,581.39 L637.9,580.57 L666.9,579.91 L696.9,579.41 L730.9,579.01 L813.9,578.45 L925.9,578.15 L1101.9,578.04" stroke="#1a70e8" stroke-width="2.3"/>
<path d="M126.5,707.8 L128.6,710.0 L130.6,707.5 L132.6,709.8 L134.7,704.9 L137.1,699.8 L139.6,682.7 L141.3,685.1 L143.0,681.2 L145.2,684.0 L147.3,681.3 L149.5,675.6 L152.0,678.1 L154.5,683.5 L156.9,684.1 L159.4,689.1 L161.9,693.2 L164.3,700.8 L165.9,705.5 L167.6,705.4 L170.1,708.6 L172.6,713.8 L174.2,715.6 L175.9,719.5 L177.6,714.8 L179.2,705.4 L180.8,699.7 L182.5,691.3 L184.9,685.1 L187.4,669.3 L189.9,678.7 L192.3,682.1 L194.8,682.1 L197.3,683.7 L199.8,685.0 L202.2,693.0 L204.7,695.2 L207.2,693.6 L209.6,690.6 L212.0,694.1 L214.5,680.9 L217.0,678.3 L218.7,671.4 L220.3,665.3 L221.9,660.6 L223.6,653.5 L226.1,654.0 L228.6,654.1 L230.8,660.4 L232.9,662.3 L235.1,657.9 L237.3,665.2 L239.5,659.1 L241.7,662.9 L243.8,657.5 L245.8,655.0 L247.9,664.2 L250.0,660.9 L252.1,659.3 L254.1,653.8 L256.1,658.4 L258.2,657.6 L260.3,654.8 L262.3,654.9 L264.4,651.6 L266.5,653.3 L268.5,651.1 L270.6,651.7 L272.5,649.6 L274.4,647.1 L276.2,646.8 L278.1,644.4 L280.0,644.1 L281.9,643.1 L283.8,640.5 L285.6,640.0 L287.5,636.6 L289.4,637.2 L291.3,642.0 L293.2,641.7 L295.0,644.9 L296.9,644.4 L298.8,653.9 L301.1,651.8 L303.5,656.3 L305.4,656.9 L307.3,656.4 L309.2,652.0 L311.1,649.9 L313.0,646.3 L314.9,646.2 L316.7,648.7 L318.6,650.4 L320.4,653.6 L322.3,657.3 L324.2,656.2 L326.1,658.4 L328.0,661.9 L329.8,658.3 L331.7,656.6 L333.6,659.9 L335.5,656.3 L337.3,652.8 L339.2,658.1 L341.1,653.0 L342.9,651.4 L344.8,653.2 L346.7,656.0 L348.6,651.6 L350.5,652.1 L352.4,648.8 L354.3,647.2 L356.2,652.2 L358.1,653.0 L360.0,649.2 L361.9,648.3 L363.8,649.4 L365.6,646.2 L367.5,648.5 L369.4,648.7 L371.3,650.4 L373.2,648.8 L375.1,647.2 L377.0,649.2 L378.8,648.0 L380.7,654.5 L382.6,653.5 L384.7,652.9 L386.9,646.6 L389.0,643.9 L391.1,643.6 L393.0,639.8 L394.9,640.1 L396.8,635.8 L398.6,638.8 L400.5,637.4 L402.4,639.2 L404.3,637.0 L406.2,632.4 L408.0,635.8 L409.9,636.2 L411.8,626.8 L413.7,626.8 L415.6,632.6 L417.5,636.1 L419.4,634.2 L421.2,643.9 L423.1,642.2 L425.0,641.0 L426.9,641.0 L428.8,641.0 L430.6,641.0 L432.5,641.0 L434.4,642.4 L436.3,639.7 L438.4,642.8 L440.5,639.4 L442.6,648.8 L444.7,645.1 L446.8,639.1 L448.9,639.2 L451.1,644.6 L453.2,645.4 L455.1,644.9 L457.0,646.4 L458.9,651.0 L460.7,645.4 L462.6,642.1 L464.5,646.9 L466.6,642.8 L468.8,643.9 L470.9,647.4 L473.0,644.1 L474.9,645.2 L476.7,655.1 L478.6,657.1 L480.5,661.2 L482.4,657.1 L484.3,658.3 L486.2,655.2 L488.1,658.0 L490.0,654.8 L491.9,654.8 L493.7,655.9 L495.6,658.0 L497.5,651.0 L499.3,663.0 L501.2,654.6 L503.1,654.9 L505.0,652.8 L506.9,652.1 L508.7,654.2 L510.6,650.5 L512.5,648.2 L514.4,646.0 L516.3,648.6 L518.1,646.2 L520.0,654.5 L521.9,646.9 L523.8,646.5 L525.8,648.5 L527.9,649.1 L529.9,639.5 L531.9,637.5 L533.9,641.2 L536.0,641.9 L538.0,634.6 L540.1,637.1 L542.2,638.4 L544.3,644.5 L546.4,644.3 L548.3,649.9 L550.3,647.7 L552.2,649.6 L554.2,649.5 L556.1,649.4 L558.1,652.1 L560.0,650.0 L561.9,649.1 L563.8,654.6 L565.6,655.8 L567.5,657.5 L569.4,662.3 L571.3,661.0 L573.2,657.0 L575.1,653.7 L577.0,653.9 L578.8,655.9 L580.7,644.1 L582.6,639.8 L584.5,643.1 L586.4,642.1 L588.3,645.0 L590.2,644.7 L592.1,649.8 L594.0,648.9 L596.1,648.4 L598.2,644.0 L600.3,638.3 L602.4,638.2 L604.3,638.2 L606.2,638.2 L608.0,638.2 L609.9,638.2 L611.8,638.0 L613.7,636.1 L615.8,639.7 L617.9,642.2 L620.0,646.8 L622.1,651.0 L624.0,652.5 L625.9,657.3 L627.8,657.7 L629.7,659.1 L631.6,654.1 L633.5,659.7 L635.3,656.5 L637.2,651.7 L639.1,650.7 L641.0,655.0 L642.9,654.2 L644.8,651.1 L646.6,656.9 L648.5,654.1 L650.4,659.5 L652.3,662.1 L654.1,667.5 L656.0,672.0 L657.9,666.1 L659.8,665.5 L661.6,663.8 L663.5,658.5 L665.4,654.8 L667.3,649.8 L669.2,652.9 L671.1,654.3 L673.0,650.4 L674.8,643.5 L676.7,648.0 L678.6,645.0 L680.7,646.5 L682.9,655.4 L685.0,655.4 L687.1,660.5 L689.2,658.3 L691.4,661.8 L693.5,652.7 L695.6,650.8 L697.5,654.1 L699.4,653.5 L701.2,658.4 L703.1,654.1 L705.0,659.9 L706.9,657.3 L708.8,654.5 L710.7,660.2 L712.5,653.7 L714.4,653.7 L716.3,649.2 L718.2,648.2 L720.1,649.5 L722.0,649.5 L723.9,649.5 L725.7,649.5 L727.6,649.2 L729.5,647.2 L731.4,648.5 L733.3,649.6 L735.1,655.0 L737.0,655.1 L738.9,654.8 L740.8,657.7 L742.7,660.5 L744.6,662.9 L746.5,658.6 L748.3,661.4 L750.2,661.9 L752.1,658.6 L754.1,665.0 L756.0,666.5 L758.0,669.1 L760.0,669.6 L761.9,666.6 L763.8,662.3 L765.6,670.3 L767.5,667.5 L769.4,664.1 L771.3,666.1 L773.2,669.3 L775.1,666.6 L777.0,671.3 L778.8,669.9 L780.7,672.4 L782.6,670.0 L784.7,675.4 L786.8,667.7 L788.9,668.5 L791.0,667.2 L792.9,663.5 L794.8,665.9 L796.7,663.0 L798.6,660.1 L800.5,658.2 L802.4,657.6 L804.5,664.6 L806.6,664.1 L808.7,667.2 L810.8,663.0 L812.7,666.0 L814.6,664.9 L816.5,666.9 L818.3,672.0 L820.2,670.8 L822.1,672.2 L824.0,675.5 L825.9,676.0 L827.8,678.0 L829.6,668.8 L831.5,673.4 L833.4,673.9 L835.3,670.5 L837.2,669.9 L839.0,664.8 L840.9,659.3 L842.8,659.7 L844.7,659.7 L846.6,667.4 L848.5,661.1 L850.4,659.2 L852.2,658.0 L854.1,665.6 L856.0,665.5 L857.9,666.9 L859.8,661.3 L861.6,662.7 L863.5,657.4 L865.4,660.6 L867.3,655.4 L869.4,656.8 L871.5,667.2 L873.7,667.3 L875.8,667.5 L877.9,668.6 L880.0,666.9 L882.2,673.9 L884.3,672.2 L886.4,676.3 L888.5,669.1 L890.7,660.8 L892.8,664.1 L894.7,663.8 L896.5,658.2 L898.4,657.9 L900.3,655.4 L902.1,653.5 L904.0,646.0 L906.1,658.4 L908.2,658.9 L910.4,665.5 L912.5,667.4 L914.6,666.0 L916.8,670.0 L918.9,665.7 L921.0,664.8 L922.9,661.7 L924.8,663.4 L926.6,663.5 L928.5,660.5 L930.4,661.6 L932.3,660.4 L934.2,669.5 L936.1,665.3 L938.1,665.5 L940.0,671.1 L941.9,665.7 L943.8,661.9 L945.6,666.8 L947.5,666.7 L949.4,672.3 L951.3,669.1 L953.2,670.7 L955.1,673.1 L957.0,676.0 L958.8,671.0 L960.7,676.0 L962.6,676.3 L964.5,674.2 L966.4,664.5 L968.2,669.1 L970.1,670.5 L972.0,667.0 L973.9,668.3 L975.8,666.2 L977.6,666.2 L979.5,666.2 L981.4,666.2 L983.2,666.8 L985.1,664.6 L987.0,666.2 L988.9,661.1 L990.8,661.9 L992.6,658.3 L994.5,655.8 L996.4,657.2 L998.3,655.0 L1000.1,653.6 L1002.0,654.0 L1004.1,656.3 L1006.2,658.0 L1008.4,661.3 L1010.5,661.7 L1012.6,662.0 L1014.8,660.3 L1016.9,657.4 L1019.0,660.8 L1021.0,659.9 L1023.0,657.5 L1025.0,667.8 L1027.1,657.7 L1029.1,666.1 L1031.1,668.0 L1033.1,667.6 L1035.1,672.0 L1037.1,662.1 L1039.1,659.6 L1041.2,665.9 L1043.2,659.6 L1045.2,656.8 L1047.2,657.4 L1049.1,661.1 L1051.0,663.5 L1052.8,669.4 L1054.7,665.4 L1056.6,673.1 L1058.5,681.4 L1060.6,675.5 L1062.8,679.9 L1064.9,686.7 L1067.0,689.8 L1069.1,684.5 L1071.2,682.0 L1073.3,680.2 L1075.4,684.5 L1077.5,681.8 L1079.7,672.1 L1081.8,671.8 L1083.9,672.5 L1086.0,670.6 L1088.2,672.2 L1090.3,670.6 L1092.4,675.1 L1094.3,672.0 L1096.2,669.3 L1098.1,670.1 L1100.0,664.3" stroke="#1a70e8" stroke-width="2.3" stroke-dasharray="16.8 4.6 2.6 4.5"/>
<path d="M109.9,628.80 L260.9,628.77 L274.9,628.54 L279.9,628.27 L283.9,627.89 L287.9,627.28 L290.9,626.63 L293.9,625.81 L296.9,624.81 L302.9,622.43 L316.9,616.26 L324.9,612.95 L333.9,609.56 L342.9,606.51 L351.9,603.77 L361.9,601.05 L371.9,598.63 L381.9,596.47 L394.9,594.01 L407.9,591.89 L421.9,589.94 L435.9,588.27 L451.9,586.65 L467.9,585.31 L485.9,584.05 L504.9,582.98 L520.9,582.23 L538.9,581.54 L577.9,580.43 L622.9,579.62 L676.9,579.05 L738.9,578.70 L818.9,578.49 L1101.9,578.34" stroke="#5cc5d5" stroke-width="2.3"/>
<path d="M112.0,630.5 L114.0,630.5 L116.0,630.5 L118.0,630.5 L120.0,630.5 L122.0,630.5 L124.0,630.5 L126.0,630.5 L128.0,630.0 L130.0,629.6 L131.9,630.2 L133.8,636.9 L135.8,638.4 L137.7,642.3 L139.6,642.0 L141.8,638.8 L144.0,634.9 L146.2,636.3 L148.4,636.4 L150.6,636.3 L152.8,635.1 L154.9,633.7 L156.9,635.5 L158.9,636.2 L161.0,636.8 L163.2,634.3 L165.4,637.1 L167.6,633.7 L170.1,622.8 L172.6,623.6 L174.7,620.1 L176.7,622.9 L178.8,624.1 L180.8,618.3 L183.0,623.7 L185.2,623.0 L187.4,625.7 L189.6,629.7 L191.8,631.6 L194.0,634.4 L196.2,633.5 L198.4,635.0 L200.6,636.5 L202.7,638.8 L204.7,637.8 L206.8,636.1 L208.8,635.5 L211.0,631.3 L213.2,630.4 L215.4,629.3 L217.4,632.5 L219.4,628.2 L221.3,630.5 L223.3,625.5 L225.3,625.9 L227.4,626.3 L229.4,626.3 L231.4,626.8 L233.5,628.1 L235.6,630.3 L237.6,630.5 L239.6,629.9 L241.7,630.3 L244.2,626.8 L246.7,630.4 L248.7,628.4 L250.6,633.1 L252.6,627.5 L254.5,627.9 L256.5,625.9 L258.4,629.6 L260.3,620.5 L262.1,624.1 L264.0,630.5 L265.9,629.3 L267.8,625.5 L269.7,629.9 L271.5,633.3 L273.4,634.9 L275.3,632.9 L277.1,631.2 L278.9,631.8 L280.6,628.7 L282.4,630.0 L284.1,630.7 L285.9,629.3 L287.6,634.5 L289.4,632.9 L291.5,633.6 L293.6,630.7 L295.8,630.1 L297.9,630.9 L300.0,630.6 L301.9,631.6 L303.8,632.9 L305.6,635.0 L307.5,633.5 L309.4,628.7 L311.2,630.4 L313.1,627.9 L315.0,632.9 L316.9,625.4 L318.8,633.3 L320.6,627.7 L322.5,630.1 L324.4,627.5 L326.2,629.1 L328.1,626.5 L330.0,621.7 L331.9,622.5 L333.8,623.7 L335.6,624.9 L337.5,619.9 L339.4,620.5 L341.2,622.7 L343.1,623.9 L345.0,624.7 L346.9,622.6 L348.8,619.7 L350.6,626.2 L352.5,624.7 L354.4,628.1 L356.2,626.7 L358.1,628.8 L360.0,626.7 L362.0,626.9 L364.0,626.9 L366.0,626.9 L368.1,626.9 L370.1,626.9 L372.1,626.5 L374.1,627.2 L376.1,629.6 L378.1,634.5 L380.1,629.9 L382.2,631.2 L384.2,630.7 L386.2,632.6 L388.2,630.7 L390.2,631.8 L392.3,631.4 L394.3,637.1 L396.3,637.0 L398.3,631.0 L400.4,635.1 L402.4,635.0 L404.4,630.6 L406.4,631.9 L408.4,630.7 L410.5,629.7 L412.5,628.8 L414.5,624.1 L416.5,628.1 L418.5,629.0 L420.5,628.0 L422.5,628.8 L424.6,631.8 L426.6,629.7 L428.6,634.0 L430.6,634.1 L432.6,638.5 L434.6,632.0 L436.6,634.0 L438.7,629.6 L440.7,631.9 L442.7,629.1 L444.7,631.7 L446.7,631.4 L448.8,629.5 L450.8,629.1 L452.8,627.4 L454.8,628.8 L456.9,628.1 L458.9,626.6 L460.9,626.6 L462.9,629.4 L464.9,629.7 L467.0,630.9 L469.0,631.3 L471.0,629.6 L473.0,632.8 L475.0,635.7 L477.0,632.1 L479.0,631.4 L481.1,629.6 L483.1,632.1 L485.1,634.6 L487.1,631.7 L489.1,629.1 L491.1,632.4 L493.1,631.2 L495.2,634.2 L497.2,628.1 L499.2,630.9 L501.2,631.4 L503.2,626.5 L505.3,633.0 L507.3,626.5 L509.3,628.9 L511.3,627.7 L513.4,628.9 L515.4,630.6 L517.4,631.9 L519.4,634.2 L521.4,635.1 L523.5,632.7 L525.5,637.0 L527.5,633.7 L529.5,638.0 L531.5,636.3 L533.5,633.6 L535.5,634.4 L537.6,632.0 L539.6,635.5 L541.6,632.6 L543.6,631.7 L545.6,630.7 L547.7,629.6 L549.8,626.4 L551.8,630.3 L553.9,623.8 L555.9,627.6 L558.0,624.0 L560.0,623.6 L562.1,626.5 L564.2,625.4 L566.4,627.8 L568.5,627.0 L570.6,625.6 L572.8,627.7 L574.9,624.7 L577.0,623.8 L579.1,626.3 L581.2,625.3 L583.4,629.5 L585.5,623.1 L587.6,624.8 L589.8,624.9 L591.9,626.8 L594.0,624.7 L596.1,624.0 L598.2,624.0 L600.3,624.0 L602.4,624.0 L604.5,624.0 L606.6,624.0 L608.7,624.7 L610.8,624.6 L612.9,624.9 L615.0,622.8 L617.2,624.4 L619.3,624.5 L621.4,627.3 L623.5,628.0 L625.7,623.8 L627.8,626.3 L629.9,630.3 L632.0,625.0 L634.1,625.7 L636.2,626.3 L638.4,628.9 L640.5,630.1 L642.6,629.5 L644.7,630.0 L646.8,631.8 L649.0,630.9 L651.1,632.9 L653.2,630.1 L655.3,626.4 L657.5,627.6 L659.6,627.9 L661.7,629.0 L663.8,630.7 L665.9,630.2 L668.0,632.7 L670.2,632.5 L672.3,633.3 L674.4,628.8 L676.5,629.9 L678.6,630.6 L680.7,629.7 L682.9,629.7 L685.0,629.7 L687.1,629.7 L689.2,629.7 L691.4,629.7 L693.5,628.5 L695.6,629.4 L697.7,631.2 L699.8,635.1 L701.9,634.8 L704.0,632.0 L706.2,638.0 L708.3,633.8 L710.4,639.7 L712.5,639.3 L714.6,638.8 L716.8,634.5 L718.9,635.2 L721.0,629.5 L723.1,630.0 L725.2,627.1 L727.4,621.4 L729.5,620.0 L731.5,622.1 L733.5,623.9 L735.5,626.5 L737.6,624.1 L739.6,630.0 L741.6,628.0 L743.6,628.5 L745.6,632.6 L747.7,631.2 L749.8,629.2 L751.8,634.8 L753.9,635.2 L755.9,632.4 L758.0,634.8 L760.0,635.3 L761.9,631.7 L763.8,634.6 L765.6,628.5 L767.5,627.9 L769.4,623.6 L771.3,628.7 L773.3,628.5 L775.3,632.0 L777.3,629.1 L779.4,636.3 L781.4,637.9 L783.4,641.5 L785.4,633.2 L787.3,639.2 L789.2,636.2 L791.0,629.1 L792.9,632.2 L794.8,632.4 L796.7,635.8 L798.6,629.7 L800.5,631.4 L802.4,631.2 L804.2,632.6 L806.1,629.7 L808.0,632.0 L809.9,631.8 L811.8,625.4 L813.6,628.2 L815.5,623.2 L817.4,625.5 L819.3,628.5 L821.2,625.0 L823.1,625.6 L825.0,625.8 L826.8,625.1 L828.7,622.8 L830.6,623.8 L832.6,626.5 L834.6,627.5 L836.6,626.7 L838.7,626.1 L840.7,628.5 L842.7,628.2 L844.7,628.4 L846.6,629.7 L848.5,629.7 L850.4,629.7 L852.2,629.7 L854.1,629.1 L856.0,630.3 L857.9,630.7 L859.8,629.8 L861.6,632.5 L863.5,631.9 L865.4,633.9 L867.3,628.3 L869.3,632.3 L871.4,630.3 L873.4,632.2 L875.4,627.9 L877.4,626.2 L879.5,629.6 L881.5,624.7 L883.4,626.9 L885.3,628.8 L887.1,630.6 L889.0,628.2 L890.9,633.0 L892.8,634.2 L894.9,636.3 L897.0,638.5 L899.1,640.4 L901.2,643.8 L903.3,641.1 L905.5,640.4 L907.6,641.8 L909.7,645.2 L911.8,644.0 L914.0,643.9 L916.1,638.9 L918.2,638.3 L920.1,639.6 L922.0,636.2 L923.9,639.0 L925.7,636.8 L927.6,632.8 L929.5,630.1 L931.4,632.3 L933.3,629.2 L935.1,626.7 L937.0,624.8 L938.9,629.9 L940.8,628.1 L942.7,626.8 L944.6,626.7 L946.5,626.0 L948.3,625.3 L950.2,625.6 L952.1,622.7 L954.2,618.0 L956.3,625.3 L958.4,625.5 L960.5,624.6 L962.6,627.9 L964.5,623.6 L966.4,622.8 L968.2,632.4 L970.1,632.0 L972.0,629.5 L973.9,633.2 L976.7,645.6 L978.6,640.2 L980.5,640.9 L982.4,642.9 L984.2,641.4 L986.1,636.6 L988.0,637.9 L990.0,635.5 L992.0,635.6 L994.0,634.3 L996.0,630.2 L998.0,627.8 L1000.0,633.4 L1002.0,629.2 L1003.9,625.2 L1005.8,624.0 L1007.7,628.2 L1009.6,628.7 L1011.5,624.6 L1013.4,627.0 L1015.2,628.6 L1017.1,626.0 L1019.0,624.2 L1020.9,623.7 L1022.8,628.2 L1024.7,626.1 L1026.5,624.3 L1028.4,627.6 L1030.3,629.3 L1032.2,629.5 L1034.1,629.5 L1035.9,629.5 L1037.8,629.5 L1039.7,629.5 L1041.6,629.5 L1043.6,629.5 L1045.6,629.5 L1047.6,629.5 L1049.7,629.5 L1051.7,629.5 L1053.7,630.3 L1055.7,630.5 L1057.6,632.7 L1059.5,626.8 L1061.3,630.1 L1063.2,630.7 L1065.1,632.0 L1067.0,632.3 L1068.9,636.3 L1070.8,639.7 L1072.7,638.9 L1074.5,644.7 L1076.4,638.2 L1078.3,641.4 L1080.4,643.3 L1082.5,639.3 L1084.6,639.5 L1086.7,639.2 L1088.6,636.0 L1090.5,640.1 L1092.4,641.4 L1094.3,634.8 L1096.2,631.1 L1098.1,635.0 L1100.0,634.0" stroke="#5cc5d5" stroke-width="2.3" stroke-dasharray="16.8 4.6 2.6 4.5"/>
<path d="M109.9,704.30 L261.9,704.24 L270.9,704.11 L276.9,703.89 L281.9,703.52 L285.9,703.01 L289.9,702.21 L292.9,701.35 L295.9,700.21 L299.9,698.25 L302.9,696.47 L305.9,694.47 L318.9,685.10 L325.9,680.41 L329.9,677.95 L333.9,675.63 L341.9,671.42 L349.9,667.70 L357.9,664.40 L366.9,661.12 L375.9,658.22 L381.9,656.48 L387.9,654.87 L399.9,652.01 L406.9,650.53 L413.9,649.17 L427.9,646.79 L442.9,644.65 L458.9,642.75 L475.9,641.08 L494.9,639.56 L510.9,638.50 L528.9,637.52 L547.9,636.67 L568.9,635.91 L590.9,635.28 L615.9,634.71 L671.9,633.87 L736.9,633.33 L819.9,632.99 L930.9,632.81 L1101.9,632.73" stroke="#ff7820" stroke-width="2.3"/>
<path d="M123.2,700.1 L125.4,698.2 L127.6,701.1 L129.8,708.9 L131.9,705.3 L133.9,706.3 L135.9,711.2 L138.0,707.5 L140.5,703.6 L143.0,699.8 L145.2,698.8 L147.3,702.9 L149.5,711.1 L151.6,701.0 L153.7,698.7 L155.7,698.0 L157.8,696.5 L160.0,692.6 L162.1,699.4 L164.3,692.5 L166.5,695.4 L168.7,693.6 L170.9,694.3 L173.4,695.0 L175.9,701.3 L178.4,693.6 L180.8,694.3 L183.2,691.3 L185.7,697.5 L187.9,702.5 L190.1,704.4 L192.3,705.8 L194.8,710.5 L197.3,713.2 L199.5,716.2 L201.7,712.7 L203.9,722.5 L206.4,726.0 L208.8,726.0 L211.2,725.8 L213.7,720.7 L216.2,712.6 L218.7,701.6 L221.1,701.3 L223.6,697.2 L226.1,688.0 L228.6,696.3 L231.1,699.1 L233.5,705.2 L235.9,701.2 L238.4,706.4 L240.6,705.9 L242.8,701.0 L245.0,701.3 L247.2,707.2 L249.4,707.0 L251.6,710.5 L253.8,704.9 L256.0,707.3 L258.2,697.8 L260.0,699.0 L261.7,699.9 L263.5,698.6 L265.3,704.7 L267.1,707.7 L268.8,706.2 L270.6,710.8 L272.5,713.2 L274.4,712.5 L276.2,714.4 L278.1,711.0 L280.0,708.1 L281.9,713.2 L283.8,708.3 L285.6,708.0 L287.5,704.3 L289.4,700.2 L291.3,701.5 L293.2,703.7 L295.0,707.4 L296.9,703.5 L298.8,704.1 L301.0,697.4 L303.2,698.2 L305.4,700.3 L307.5,699.0 L309.6,700.8 L311.7,704.6 L313.9,705.2 L316.0,701.7 L318.1,704.1 L320.2,701.1 L322.3,705.2 L324.2,707.5 L326.2,701.0 L328.1,708.7 L330.0,707.7 L331.9,704.3 L333.9,704.4 L335.8,708.1 L337.7,703.5 L339.6,706.7 L341.6,702.6 L343.5,696.9 L345.6,699.9 L347.6,700.6 L349.7,707.5 L351.8,705.5 L353.8,708.8 L355.9,706.4 L357.9,704.9 L360.0,714.6 L361.9,714.1 L363.8,708.1 L365.6,706.9 L367.5,709.0 L369.4,702.2 L371.3,702.8 L373.2,700.8 L375.1,707.0 L377.0,706.8 L378.8,704.2 L380.7,705.4 L382.6,704.4 L384.5,706.4 L386.4,710.9 L388.2,708.3 L390.1,709.7 L392.0,703.1 L393.9,705.7 L395.8,704.2 L397.7,705.9 L399.5,709.0 L401.4,700.6 L403.3,709.4 L405.2,711.5 L407.1,708.7 L409.0,706.0 L410.9,705.7 L412.7,705.7 L414.6,703.5 L416.5,701.1 L418.6,704.0 L420.8,705.9 L422.9,706.6 L425.0,707.8 L427.5,710.8 L430.0,712.0 L432.0,727.6 L434.0,738.1 L436.0,726.3 L438.0,713.2 L439.9,706.5 L441.8,701.6 L443.8,701.8 L445.7,694.6 L447.6,690.8 L449.5,699.0 L451.3,707.7 L453.2,715.1 L455.1,710.1 L457.0,712.7 L458.9,704.3 L461.0,702.3 L463.1,705.5 L465.2,707.9 L467.3,702.0 L469.2,705.0 L471.1,699.1 L473.0,701.6 L475.1,702.8 L477.2,703.0 L479.4,707.3 L481.5,710.1 L483.4,704.3 L485.3,705.8 L487.1,703.4 L489.0,708.4 L490.9,699.1 L492.8,700.5 L494.7,695.9 L496.5,703.1 L498.4,697.4 L500.3,699.2 L502.1,702.2 L504.0,702.0 L505.9,703.4 L507.8,701.0 L509.7,701.3 L511.6,700.8 L513.5,707.1 L515.4,709.6 L517.3,707.2 L519.2,704.7 L521.0,707.5 L522.9,705.7 L524.8,706.1 L526.7,704.1 L528.6,705.3 L530.5,703.4 L532.4,699.2 L534.2,707.6 L536.1,706.5 L538.0,713.0 L539.9,701.6 L541.8,706.2 L543.6,701.9 L545.5,702.1 L547.4,697.4 L549.3,699.7 L551.4,698.2 L553.6,700.8 L555.7,699.5 L557.9,700.2 L560.0,702.5 L561.9,702.5 L563.8,701.0 L565.6,705.9 L567.5,705.0 L569.4,708.2 L571.3,708.2 L573.2,708.9 L575.1,702.0 L577.0,708.8 L578.8,702.9 L580.7,706.2 L582.6,708.1 L584.5,699.1 L586.4,705.0 L588.3,699.9 L590.2,701.0 L592.1,696.4 L594.0,696.8 L596.1,696.3 L598.2,698.1 L600.3,697.0 L602.4,693.5 L604.5,694.9 L606.6,703.0 L608.7,699.8 L610.8,702.2 L612.7,701.1 L614.6,700.0 L616.5,696.9 L618.3,691.3 L620.2,690.3 L622.1,693.3 L624.0,694.5 L625.9,693.2 L627.8,695.7 L629.6,697.3 L631.5,701.6 L633.4,697.0 L635.3,699.7 L637.2,699.9 L639.0,700.0 L640.9,702.4 L642.8,702.9 L644.7,700.3 L646.6,699.9 L648.5,702.7 L650.4,702.0 L652.2,703.0 L654.1,704.6 L656.0,707.1 L657.9,715.0 L659.8,716.4 L661.7,720.9 L663.6,719.2 L665.5,723.2 L667.4,720.4 L669.2,715.4 L671.1,716.2 L673.0,712.1 L674.9,711.3 L676.8,707.4 L678.6,710.3 L680.5,706.8 L682.4,706.1 L684.3,707.2 L686.4,702.4 L688.5,695.3 L690.7,693.3 L692.8,689.1 L694.9,690.8 L697.0,696.2 L699.1,699.4 L701.2,701.1 L703.1,703.9 L705.0,701.7 L706.9,699.9 L708.7,705.3 L710.6,701.1 L712.5,700.2 L714.4,702.7 L716.3,702.4 L718.1,698.3 L720.0,703.6 L721.9,702.6 L723.8,699.8 L725.7,708.1 L727.6,709.0 L729.5,703.3 L731.3,711.7 L733.2,704.4 L735.1,713.0 L737.0,706.8 L738.9,707.2 L740.8,709.0 L742.6,706.9 L744.5,704.1 L746.4,704.3 L748.3,703.2 L750.3,703.2 L752.2,703.2 L754.2,703.2 L756.1,703.2 L758.1,702.8 L760.0,701.0 L761.9,708.9 L763.8,705.1 L765.6,711.4 L767.5,706.9 L769.4,708.0 L771.3,711.4 L773.2,713.6 L775.1,708.4 L777.0,707.9 L778.8,702.2 L780.7,704.7 L782.6,705.8 L784.5,705.7 L786.4,702.7 L788.2,708.4 L790.1,706.4 L792.0,713.1 L793.9,708.9 L795.8,713.9 L797.7,710.9 L799.5,710.2 L801.4,706.9 L803.3,705.5 L805.2,706.0 L807.1,701.9 L809.0,710.7 L810.9,703.8 L812.7,706.3 L814.6,701.3 L816.5,710.0 L818.4,710.2 L820.3,709.3 L822.1,707.0 L824.0,707.0 L825.9,706.2 L827.8,708.6 L829.7,704.3 L831.6,706.7 L833.5,706.7 L835.3,703.6 L837.2,704.4 L839.1,702.2 L841.0,701.6 L842.9,710.6 L844.8,702.8 L846.6,707.2 L848.5,705.9 L850.4,701.5 L852.3,708.7 L854.2,710.0 L856.0,710.0 L857.9,706.5 L859.8,710.6 L861.7,704.9 L863.6,703.6 L865.5,704.4 L867.4,704.7 L869.2,706.9 L871.1,702.2 L873.0,702.9 L874.9,695.6 L876.8,701.0 L878.6,703.8 L880.5,710.4 L882.4,702.3 L884.3,702.9 L886.2,709.2 L888.1,713.8 L890.0,706.3 L891.8,708.2 L893.7,706.4 L895.6,713.5 L897.5,711.5 L899.4,707.6 L901.2,705.8 L903.1,704.8 L905.0,704.1 L906.9,702.4 L908.8,699.8 L910.7,697.7 L912.5,700.3 L914.4,699.3 L916.3,702.6 L918.2,694.4 L920.1,701.3 L922.0,700.6 L923.9,700.9 L925.7,696.8 L927.6,694.2 L929.5,695.5 L931.6,696.1 L933.8,696.1 L935.9,695.5 L938.0,694.5 L940.1,698.2 L942.2,700.8 L944.3,699.0 L946.4,703.9 L948.5,709.8 L950.7,713.4 L952.9,710.8 L955.0,713.0 L957.5,720.7 L960.0,721.3 L962.0,715.7 L964.1,714.7 L966.2,714.9 L968.2,715.5 L970.1,709.8 L972.0,711.3 L973.9,707.7 L975.7,709.4 L977.6,706.4 L979.5,706.3 L981.4,704.8 L983.3,702.9 L985.1,705.2 L987.0,699.3 L988.9,711.8 L990.8,710.0 L992.7,709.1 L994.5,707.2 L996.4,707.4 L998.3,707.9 L1000.1,702.2 L1002.0,704.7 L1004.1,704.7 L1006.2,702.6 L1008.4,698.9 L1010.5,700.3 L1012.6,697.2 L1014.8,700.3 L1016.9,700.9 L1019.0,697.8 L1020.9,698.7 L1022.7,700.2 L1024.6,704.8 L1026.5,714.6 L1028.4,720.4 L1030.3,726.4 L1032.4,716.7 L1034.5,717.5 L1036.7,714.1 L1038.8,708.3 L1040.9,711.2 L1043.0,703.3 L1045.1,700.9 L1047.2,701.6 L1049.3,696.0 L1051.5,698.3 L1053.6,700.9 L1055.7,698.6 L1057.6,698.3 L1059.5,704.0 L1061.3,703.1 L1063.2,696.5 L1065.1,700.4 L1067.0,704.3 L1068.9,702.3 L1070.8,700.5 L1072.7,703.1 L1074.5,705.9 L1076.4,705.1 L1078.3,706.7 L1080.2,703.5 L1082.0,700.4 L1083.9,703.9 L1085.8,701.8 L1087.6,701.1 L1089.5,698.4 L1091.6,694.0 L1093.7,700.1 L1095.8,700.0 L1097.9,701.3 L1100.0,700.0" stroke="#ff7820" stroke-width="2.3" stroke-dasharray="16.8 4.6 2.6 4.5"/>
<path d="M109.9,747.60 L273.9,747.59 L280.9,747.48 L282.9,747.33 L284.9,747.03 L286.9,746.50 L287.9,746.13 L290.9,744.58 L293.9,742.59 L305.9,733.99 L313.9,728.64 L322.9,723.13 L331.9,718.16 L340.9,713.68 L345.9,711.40 L350.9,709.25 L360.9,705.33 L370.9,701.88 L376.9,700.01 L382.9,698.28 L394.9,695.21 L407.9,692.38 L420.9,690.01 L434.9,687.88 L449.9,686.00 L465.9,684.39 L483.9,682.95 L497.9,682.05 L512.9,681.27 L528.9,680.60 L546.9,680.01 L565.9,679.53 L586.9,679.13 L635.9,678.56 L690.9,678.26 L766.9,678.10 L1101.9,678.02" stroke="#d06010" stroke-width="2.3"/>
<path d="M276.0,800.0 L277.9,754.5 L279.0,800.0 L281.0,800.0 L282.9,800.0 L284.9,800.0 L286.9,800.0 L288.8,800.0 L290.8,800.0 L292.8,800.0 L294.7,800.0 L296.7,800.0 L298.6,800.0 L300.6,800.0 L302.6,800.0 L304.5,800.0 L306.5,800.0 L307.1,756.8 L309.1,756.8 L311.2,756.8 L313.2,756.8 L315.3,756.8 L317.3,756.8 L319.4,756.8 L321.4,756.8 L323.4,756.8 L325.5,756.8 L327.5,756.8 L329.6,756.8 L331.6,756.8 L333.7,756.8 L335.7,756.8 L337.7,756.8 L339.8,756.8 L341.8,756.8 L343.9,756.8 L345.9,756.8 L348.0,756.8 L350.0,756.8 L351.0,765.4 L353.0,765.4 L355.0,765.4 L357.0,765.4 L359.0,765.4 L361.0,765.4 L363.0,765.4 L365.0,765.4 L367.0,765.4 L369.0,765.4 L371.1,765.4 L373.1,765.4 L375.1,765.4 L377.1,765.4 L379.1,765.4 L381.1,765.4 L383.1,765.4 L385.1,765.4 L387.1,765.4 L389.1,765.4 L391.1,765.4 L393.1,765.4 L395.1,765.4 L397.1,765.4 L399.1,765.4 L401.1,765.4 L403.1,765.4 L405.1,765.4 L407.1,765.4 L409.2,765.4 L411.2,765.4 L413.2,765.4 L415.2,765.4 L417.2,765.4 L419.2,765.4 L421.2,765.4 L423.2,765.4 L425.2,765.4 L427.2,765.4 L429.2,765.4 L431.2,765.4 L433.2,765.4 L435.2,765.4 L437.2,765.4 L439.2,765.4 L441.2,765.4 L443.2,765.4 L445.2,765.4 L447.2,765.4 L449.3,765.4 L451.3,765.4 L453.3,765.4 L455.3,765.4 L457.3,765.4 L459.3,765.4 L461.3,765.4 L463.3,765.4 L465.3,765.4 L467.3,765.4 L469.3,765.4 L471.3,765.4 L473.3,765.4 L475.3,765.4 L477.3,765.4 L479.3,765.4 L481.3,765.4 L483.3,765.4 L485.3,765.4 L487.4,765.4 L489.4,765.4 L491.4,765.4 L493.4,765.4 L495.4,765.4 L497.4,765.4 L499.4,765.4 L501.4,765.4 L503.4,765.4 L505.4,765.4 L507.4,765.4 L509.4,765.4 L511.4,765.4 L513.4,765.4 L515.4,765.4 L517.4,765.4 L519.4,765.4 L521.4,765.4 L523.4,765.4 L525.5,765.4 L527.5,765.4 L529.5,765.4 L531.5,765.4 L533.5,765.4 L535.5,765.4 L537.5,765.4 L539.5,765.4 L541.5,765.4 L543.5,765.4 L544.2,774.0 L545.0,752.2 L547.0,752.2 L549.0,752.2 L551.0,752.2 L553.0,752.2 L555.0,752.2 L556.9,752.2 L558.9,752.2 L560.9,752.2 L562.9,752.2 L564.9,752.2 L566.9,752.2 L568.9,752.2 L570.9,752.2 L572.9,752.2 L574.9,752.2 L576.9,752.2 L578.8,752.2 L580.8,752.2 L582.8,752.2 L584.8,752.2 L586.8,752.2 L588.8,752.2 L590.8,752.2 L592.8,752.2 L594.8,752.2 L596.8,752.2 L598.8,752.2 L600.7,752.2 L602.7,752.2 L604.7,752.2 L606.7,752.2 L608.7,752.2 L610.7,752.2 L612.7,752.2 L614.7,752.2 L616.7,752.2 L618.7,752.2 L620.7,752.2 L622.6,752.2 L624.6,752.2 L626.6,752.2 L628.6,752.2 L630.6,752.2 L632.6,752.2 L634.6,752.2 L636.6,752.2 L638.6,752.2 L640.6,752.2 L642.6,752.2 L644.5,752.2 L646.5,752.2 L648.5,752.2 L650.5,752.2 L652.5,752.2 L654.5,752.2 L656.5,752.2 L658.5,752.2 L660.5,752.2 L662.5,752.2 L664.5,752.2 L666.4,752.2 L668.4,752.2 L670.4,752.2 L672.4,752.2 L674.4,752.2 L676.4,752.2 L678.4,752.2 L680.4,752.2 L682.4,752.2 L684.4,752.2 L686.4,752.2 L688.3,752.2 L690.3,752.2 L692.3,752.2 L694.3,752.2 L696.3,752.2 L698.3,752.2 L700.3,752.2 L702.3,752.2 L704.3,752.2 L706.3,752.2 L708.3,752.2 L710.2,752.2 L712.2,752.2 L714.2,752.2 L716.2,752.2 L718.2,752.2 L720.2,752.2 L722.2,752.2 L724.2,752.2 L726.2,752.2 L728.2,752.2 L730.2,752.2 L732.1,752.2 L734.1,752.2 L736.1,752.2 L738.1,752.2 L740.1,752.2 L742.1,752.2 L744.1,752.2 L746.1,752.2 L748.1,752.2 L750.1,752.2 L752.1,752.2 L754.0,752.2 L756.0,752.2 L758.0,752.2 L760.0,752.2 L762.0,752.2 L764.0,752.2 L765.0,749.7 L767.1,749.7 L769.2,749.7 L771.3,749.7 L773.4,749.7 L775.5,749.7 L777.6,749.7 L779.7,749.7 L781.8,749.7 L783.9,749.7 L786.0,749.7" stroke="#d06010" stroke-width="2.3" stroke-dasharray="16.8 4.6 2.6 4.5"/>
</g>
<path d="M111.9,33.9 H1099.0" stroke="#111" stroke-width="1.9" fill="none"/>
<path d="M111.9,774.6 H1099.0" stroke="#333" stroke-width="1.8" fill="none"/>
<path d="M1099.0,33.9 V774.6" stroke="#444" stroke-width="1.5" fill="none"/>
<path d="M111.9,33.0 V775.5" stroke="#000" stroke-width="1.9" fill="none"/>
<path d="M256.90,774.6 V779.80 M422.36,774.6 V779.80 M587.82,774.6 V779.80 M753.28,774.6 V779.80 M918.74,774.6 V779.80 M1084.20,774.6 V779.80 M111.9,774.50 H106.70 M111.9,603.40 H106.70 M111.9,432.30 H106.70 M111.9,261.20 H106.70 M111.9,90.10 H106.70" stroke="#111" stroke-width="1.6" fill="none"/>
<path d="M111.9,722.99 H108.90 M111.9,692.86 H108.90 M111.9,671.49 H108.90 M111.9,654.91 H108.90 M111.9,641.36 H108.90 M111.9,629.90 H108.90 M111.9,619.98 H108.90 M111.9,611.23 H108.90 M111.9,551.89 H108.90 M111.9,521.76 H108.90 M111.9,500.39 H108.90 M111.9,483.81 H108.90 M111.9,470.26 H108.90 M111.9,458.80 H108.90 M111.9,448.88 H108.90 M111.9,440.13 H108.90 M111.9,380.79 H108.90 M111.9,350.66 H108.90 M111.9,329.29 H108.90 M111.9,312.71 H108.90 M111.9,299.16 H108.90 M111.9,287.70 H108.90 M111.9,277.78 H108.90 M111.9,269.03 H108.90 M111.9,209.69 H108.90 M111.9,179.56 H108.90 M111.9,158.19 H108.90 M111.9,141.61 H108.90 M111.9,128.06 H108.90 M111.9,116.60 H108.90 M111.9,106.68 H108.90 M111.9,97.93 H108.90 M111.9,38.59 H108.90" stroke="#111" stroke-width="1.1" fill="none"/>
<text x="248.75" y="805.40" font-size="29" textLength="16.63" lengthAdjust="spacingAndGlyphs">4</text>
<text x="413.91" y="805.40" font-size="29" textLength="16.63" lengthAdjust="spacingAndGlyphs">6</text>
<text x="579.45" y="805.40" font-size="29" textLength="16.63" lengthAdjust="spacingAndGlyphs">8</text>
<text x="736.09" y="805.40" font-size="29" textLength="33.26" lengthAdjust="spacingAndGlyphs">10</text>
<text x="901.77" y="805.40" font-size="29" textLength="33.26" lengthAdjust="spacingAndGlyphs">12</text>
<text x="1066.93" y="805.40" font-size="29" textLength="33.26" lengthAdjust="spacingAndGlyphs">14</text>
<text x="38.63" y="785.50" font-size="29" textLength="33.59" lengthAdjust="spacingAndGlyphs">10</text>
<text x="73.78" y="775.00" font-size="19.5" textLength="14.21" lengthAdjust="spacingAndGlyphs">−</text>
<text x="88.55" y="775.00" font-size="19.5" textLength="11.39" lengthAdjust="spacingAndGlyphs">4</text>
<text x="38.63" y="614.40" font-size="29" textLength="33.59" lengthAdjust="spacingAndGlyphs">10</text>
<text x="73.78" y="603.90" font-size="19.5" textLength="14.21" lengthAdjust="spacingAndGlyphs">−</text>
<text x="88.76" y="603.90" font-size="19.5" textLength="11.39" lengthAdjust="spacingAndGlyphs">3</text>
<text x="38.63" y="443.30" font-size="29" textLength="33.59" lengthAdjust="spacingAndGlyphs">10</text>
<text x="73.78" y="432.80" font-size="19.5" textLength="14.21" lengthAdjust="spacingAndGlyphs">−</text>
<text x="88.96" y="432.80" font-size="19.5" textLength="11.39" lengthAdjust="spacingAndGlyphs">2</text>
<text x="38.63" y="272.20" font-size="29" textLength="33.59" lengthAdjust="spacingAndGlyphs">10</text>
<text x="73.78" y="261.70" font-size="19.5" textLength="14.21" lengthAdjust="spacingAndGlyphs">−</text>
<text x="88.86" y="261.70" font-size="19.5" textLength="11.39" lengthAdjust="spacingAndGlyphs">1</text>
<text x="54.69" y="101.10" font-size="29" textLength="32.81" lengthAdjust="spacingAndGlyphs">10</text>
<text x="88.26" y="90.60" font-size="19.5" textLength="11.70" lengthAdjust="spacingAndGlyphs">0</text>
<text x="377.65" y="25.30" font-size="29.5" textLength="453.12" lengthAdjust="spacingAndGlyphs">EPREM Proton Fluxes, 110511_01</text>
<text x="380.14" y="838.30" font-size="29" textLength="448.76" lengthAdjust="spacingAndGlyphs">Hours since 00:00 on 110511_01</text>
<g transform="translate(24.9,0) rotate(-90)"><text x="-628.90" y="0.00" font-size="29.5" textLength="447.83" lengthAdjust="spacingAndGlyphs">Proton Flux (#/cm^2 sr s MeV/n)</text></g>
<rect x="1108.6" y="80.0" width="182.4000000000001" height="484.70000000000005" rx="3.5" ry="3.5" fill="#fff" fill-opacity="0.8" stroke="#cfcfcf" stroke-width="1.2"/>
<rect x="1291.4" y="80.0" width="192.89999999999986" height="484.70000000000005" rx="3.5" ry="3.5" fill="#fff" fill-opacity="0.8" stroke="#cfcfcf" stroke-width="1.2"/>
<text x="1121.23" y="71.40" font-size="25" textLength="83.17" lengthAdjust="spacingAndGlyphs">EPREM</text>
<text x="1308.71" y="71.80" font-size="25" textLength="140.47" lengthAdjust="spacingAndGlyphs">SoHO/ERNE</text>
<path d="M1115,95.40 H1154.6" stroke="#05e010" stroke-width="2.3"/>
<path d="M1296.8,95.40 H1334.5" stroke="#05e010" stroke-width="2.3" stroke-dasharray="16.8 4.6 2.6 4.5"/>
<text x="1168.84" y="102.80" font-size="18.8" textLength="90.47" lengthAdjust="spacingAndGlyphs">2.98 MeV</text>
<text x="1349.44" y="102.80" font-size="18.8" textLength="115.14" lengthAdjust="spacingAndGlyphs">2.7-3.3 MeV</text>
<path d="M1115,123.64 H1154.6" stroke="#5cc40a" stroke-width="2.3"/>
<path d="M1296.8,123.64 H1334.5" stroke="#5cc40a" stroke-width="2.3" stroke-dasharray="16.8 4.6 2.6 4.5"/>
<text x="1169.05" y="131.04" font-size="18.8" textLength="90.47" lengthAdjust="spacingAndGlyphs">3.68 MeV</text>
<text x="1349.65" y="131.04" font-size="18.8" textLength="115.14" lengthAdjust="spacingAndGlyphs">3.3-4.1 MeV</text>
<path d="M1115,151.88 H1154.6" stroke="#cc22aa" stroke-width="2.3"/>
<path d="M1296.8,151.88 H1334.5" stroke="#cc22aa" stroke-width="2.3" stroke-dasharray="16.8 4.6 2.6 4.5"/>
<text x="1169.48" y="159.28" font-size="18.8" textLength="90.47" lengthAdjust="spacingAndGlyphs">4.57 MeV</text>
<text x="1350.08" y="159.28" font-size="18.8" textLength="115.14" lengthAdjust="spacingAndGlyphs">4.1-5.1 MeV</text>
<path d="M1115,180.12 H1154.6" stroke="#00e2f5" stroke-width="2.3"/>
<path d="M1296.8,180.12 H1334.5" stroke="#00e2f5" stroke-width="2.3" stroke-dasharray="16.8 4.6 2.6 4.5"/>
<text x="1169.05" y="187.52" font-size="18.8" textLength="90.47" lengthAdjust="spacingAndGlyphs">5.71 MeV</text>
<text x="1349.65" y="187.52" font-size="18.8" textLength="115.14" lengthAdjust="spacingAndGlyphs">5.1-6.4 MeV</text>
<path d="M1115,208.36 H1154.6" stroke="#3d0a4d" stroke-width="2.3"/>
<path d="M1296.8,208.36 H1334.5" stroke="#3d0a4d" stroke-width="2.3" stroke-dasharray="16.8 4.6 2.6 4.5"/>
<text x="1168.84" y="215.76" font-size="18.8" textLength="90.47" lengthAdjust="spacingAndGlyphs">7.20 MeV</text>
<text x="1349.44" y="215.76" font-size="18.8" textLength="115.14" lengthAdjust="spacingAndGlyphs">6.4-8.1 MeV</text>
<path d="M1115,236.60 H1154.6" stroke="#a8083c" stroke-width="2.3"/>
<path d="M1296.8,236.60 H1334.5" stroke="#a8083c" stroke-width="2.3" stroke-dasharray="16.8 4.6 2.6 4.5"/>
<text x="1168.95" y="244.00" font-size="18.8" textLength="90.47" lengthAdjust="spacingAndGlyphs">9.00 MeV</text>
<text x="1349.55" y="244.00" font-size="18.8" textLength="109.27" lengthAdjust="spacingAndGlyphs">8.1-10 MeV</text>
<path d="M1115,264.84 H1154.6" stroke="#e8601c" stroke-width="2.3"/>
<path d="M1296.8,264.84 H1334.5" stroke="#e8601c" stroke-width="2.3" stroke-dasharray="16.8 4.6 2.6 4.5"/>
<text x="1168.31" y="272.24" font-size="18.8" textLength="100.66" lengthAdjust="spacingAndGlyphs">11.40 MeV</text>
<text x="1348.91" y="272.24" font-size="18.8" textLength="103.39" lengthAdjust="spacingAndGlyphs">10-13 MeV</text>
<path d="M1115,293.08 H1154.6" stroke="#1a9a70" stroke-width="2.3"/>
<path d="M1296.8,293.08 H1334.5" stroke="#1a9a70" stroke-width="2.3" stroke-dasharray="16.8 4.6 2.6 4.5"/>
<text x="1168.31" y="300.48" font-size="18.8" textLength="102.23" lengthAdjust="spacingAndGlyphs">14.87 MeV</text>
<text x="1348.91" y="300.48" font-size="18.8" textLength="103.39" lengthAdjust="spacingAndGlyphs">13-17 MeV</text>
<path d="M1115,321.32 H1154.6" stroke="#5cbfa5" stroke-width="2.3"/>
<path d="M1296.8,321.32 H1334.5" stroke="#5cbfa5" stroke-width="2.3" stroke-dasharray="16.8 4.6 2.6 4.5"/>
<text x="1168.31" y="328.72" font-size="18.8" textLength="102.23" lengthAdjust="spacingAndGlyphs">19.34 MeV</text>
<text x="1348.91" y="328.72" font-size="18.8" textLength="103.39" lengthAdjust="spacingAndGlyphs">17-22 MeV</text>
<path d="M1115,349.56 H1154.6" stroke="#7a2a38" stroke-width="2.3"/>
<path d="M1296.8,349.56 H1334.5" stroke="#7a2a38" stroke-width="2.3" stroke-dasharray="16.8 4.6 2.6 4.5"/>
<text x="1168.84" y="356.96" font-size="18.8" textLength="102.23" lengthAdjust="spacingAndGlyphs">24.82 MeV</text>
<text x="1349.44" y="356.96" font-size="18.8" textLength="103.39" lengthAdjust="spacingAndGlyphs">22-28 MeV</text>
<path d="M1115,377.80 H1154.6" stroke="#ee11ee" stroke-width="2.3"/>
<path d="M1296.8,377.80 H1334.5" stroke="#ee11ee" stroke-width="2.3" stroke-dasharray="16.8 4.6 2.6 4.5"/>
<text x="1168.84" y="385.20" font-size="18.8" textLength="102.23" lengthAdjust="spacingAndGlyphs">29.93 MeV</text>
<text x="1349.44" y="385.20" font-size="18.8" textLength="103.39" lengthAdjust="spacingAndGlyphs">28-32 MeV</text>
<path d="M1115,406.04 H1154.6" stroke="#5a0a55" stroke-width="2.3"/>
<path d="M1296.8,406.04 H1334.5" stroke="#5a0a55" stroke-width="2.3" stroke-dasharray="16.8 4.6 2.6 4.5"/>
<text x="1169.05" y="413.44" font-size="18.8" textLength="102.23" lengthAdjust="spacingAndGlyphs">35.78 MeV</text>
<text x="1349.65" y="413.44" font-size="18.8" textLength="103.39" lengthAdjust="spacingAndGlyphs">32-40 MeV</text>
<path d="M1115,434.28 H1154.6" stroke="#12b030" stroke-width="2.3"/>
<path d="M1296.8,434.28 H1334.5" stroke="#12b030" stroke-width="2.3" stroke-dasharray="16.8 4.6 2.6 4.5"/>
<text x="1169.48" y="441.68" font-size="18.8" textLength="102.23" lengthAdjust="spacingAndGlyphs">45.17 MeV</text>
<text x="1350.08" y="441.68" font-size="18.8" textLength="103.39" lengthAdjust="spacingAndGlyphs">40-51 MeV</text>
<path d="M1115,462.52 H1154.6" stroke="#1a70e8" stroke-width="2.3"/>
<path d="M1296.8,462.52 H1334.5" stroke="#1a70e8" stroke-width="2.3" stroke-dasharray="16.8 4.6 2.6 4.5"/>
<text x="1169.05" y="469.92" font-size="18.8" textLength="102.23" lengthAdjust="spacingAndGlyphs">58.46 MeV</text>
<text x="1349.65" y="469.92" font-size="18.8" textLength="103.39" lengthAdjust="spacingAndGlyphs">51-67 MeV</text>
<path d="M1115,490.76 H1154.6" stroke="#5cc5d5" stroke-width="2.3"/>
<path d="M1296.8,490.76 H1334.5" stroke="#5cc5d5" stroke-width="2.3" stroke-dasharray="16.8 4.6 2.6 4.5"/>
<text x="1168.84" y="498.16" font-size="18.8" textLength="102.23" lengthAdjust="spacingAndGlyphs">73.21 MeV</text>
<text x="1349.44" y="498.16" font-size="18.8" textLength="103.39" lengthAdjust="spacingAndGlyphs">67-80 MeV</text>
<path d="M1115,519.00 H1154.6" stroke="#ff7820" stroke-width="2.3"/>
<path d="M1296.8,519.00 H1334.5" stroke="#ff7820" stroke-width="2.3" stroke-dasharray="16.8 4.6 2.6 4.5"/>
<text x="1168.95" y="526.40" font-size="18.8" textLength="102.23" lengthAdjust="spacingAndGlyphs">89.89 MeV</text>
<text x="1349.55" y="526.40" font-size="18.8" textLength="115.15" lengthAdjust="spacingAndGlyphs">80-101 MeV</text>
<path d="M1115,547.24 H1154.6" stroke="#d06010" stroke-width="2.3"/>
<path d="M1296.8,547.24 H1334.5" stroke="#d06010" stroke-width="2.3" stroke-dasharray="16.8 4.6 2.6 4.5"/>
<text x="1168.31" y="554.64" font-size="18.8" textLength="112.41" lengthAdjust="spacingAndGlyphs">115.03 MeV</text>
<text x="1348.91" y="554.64" font-size="18.8" textLength="126.90" lengthAdjust="spacingAndGlyphs">101-131 MeV</text>
</svg>
</body></html>
